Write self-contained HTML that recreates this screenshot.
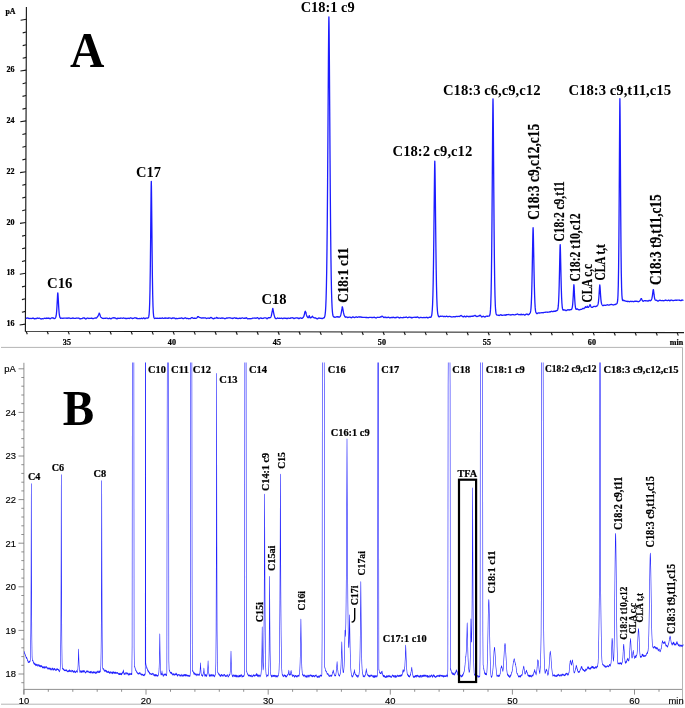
<!DOCTYPE html>
<html><head><meta charset="utf-8"><title>Chromatogram</title>
<style>
html,body{margin:0;padding:0;background:#fff}
svg{display:block}
text.b{font-family:"Liberation Serif",serif;font-weight:bold;fill:#000}
g.pb text.b,text.t{stroke:#000;stroke-width:0.22px}
text.s{stroke:#000;stroke-width:0.15px}
text.s{font-family:"Liberation Sans",sans-serif;fill:#000}
</style></head><body>
<svg width="685" height="708" viewBox="0 0 685 708">
<rect width="685" height="708" fill="#fff"/>
<g stroke="#1a1a1a" stroke-width="1.15" fill="none">
<path d="M26.4 7L25.4 331.3L684 332.6"/>
<path d="M25.4 324.1L19.6 325.0M25.5 311.4L21.9 312.3M25.5 298.7L21.9 299.6M25.6 286.0L22.0 286.9M25.6 273.3L19.8 274.2M25.6 260.6L22.0 261.5M25.7 247.9L22.1 248.8M25.7 235.2L22.1 236.1M25.8 222.5L20.0 223.4M25.8 209.8L22.2 210.7M25.8 197.1L22.2 198.0M25.9 184.4L22.3 185.3M25.9 171.7L20.1 172.6M26.0 159.0L22.4 159.9M26.0 146.3L22.4 147.2M26.0 133.6L22.4 134.5M26.1 120.9L20.3 121.8M26.1 108.2L22.5 109.1M26.1 95.5L22.5 96.4M26.2 82.8L22.6 83.7M26.2 70.1L20.4 71.0M26.3 57.4L22.7 58.3M26.3 44.7L22.7 45.6M26.3 32.0L22.7 32.9M26.4 19.3L20.6 20.2"/>
<path d="M26.1 331.3L27.3 334.3M47.1 331.3L48.3 334.3M68.1 331.4L69.3 334.4M89.1 331.4L90.3 334.4M110.1 331.5L111.3 334.5M131.1 331.5L132.3 334.5M152.1 331.6L153.3 334.6M173.1 331.6L174.3 334.6M194.1 331.6L195.3 334.6M215.1 331.7L216.3 334.7M236.1 331.7L237.3 334.7M257.1 331.8L258.3 334.8M278.1 331.8L279.3 334.8M299.1 331.8L300.3 334.8M320.1 331.9L321.3 334.9M341.1 331.9L342.3 334.9M362.1 332.0L363.3 335.0M383.1 332.0L384.3 335.0M404.1 332.0L405.3 335.0M425.1 332.1L426.3 335.1M446.1 332.1L447.3 335.1M467.1 332.2L468.3 335.2M488.1 332.2L489.3 335.2M509.1 332.3L510.3 335.3M530.1 332.3L531.3 335.3M551.1 332.3L552.3 335.3M572.1 332.4L573.3 335.4M593.1 332.4L594.3 335.4M614.1 332.5L615.3 335.5M635.1 332.5L636.3 335.5M656.1 332.5L657.3 335.5M677.1 332.6L678.3 335.6"/>
</g>
<text class="b t" x="14.6" y="326.2" font-size="8.0" text-anchor="end">16</text>
<text class="b t" x="14.6" y="275.4" font-size="8.0" text-anchor="end">18</text>
<text class="b t" x="14.6" y="224.6" font-size="8.0" text-anchor="end">20</text>
<text class="b t" x="14.6" y="173.8" font-size="8.0" text-anchor="end">22</text>
<text class="b t" x="14.6" y="123.0" font-size="8.0" text-anchor="end">24</text>
<text class="b t" x="14.6" y="72.2" font-size="8.0" text-anchor="end">26</text>
<text class="b t" x="5.4" y="14.0" font-size="7.9" text-anchor="start">pA</text>
<text class="b t" x="66.9" y="344.6" font-size="8.1" text-anchor="middle">35</text>
<text class="b t" x="171.9" y="344.6" font-size="8.1" text-anchor="middle">40</text>
<text class="b t" x="276.9" y="344.6" font-size="8.1" text-anchor="middle">45</text>
<text class="b t" x="381.9" y="344.6" font-size="8.1" text-anchor="middle">50</text>
<text class="b t" x="486.9" y="344.6" font-size="8.1" text-anchor="middle">55</text>
<text class="b t" x="591.9" y="344.6" font-size="8.1" text-anchor="middle">60</text>
<text class="b t" x="683.2" y="344.7" font-size="8.0" text-anchor="end">min</text>
<path d="M25.80 318.04L26.10 318.21L26.40 318.23L26.70 318.23L27 318.05L27.30 318.08L27.60 317.95L27.90 318.01L28.20 318.19L28.50 318.33L28.80 318.52L29.10 318.46L29.40 318.69L29.70 318.32L30 318.41L30.30 318.30L30.60 318.44L30.90 318.53L31.20 318.62L31.50 318.48L31.80 318.43L32.10 318.30L32.40 318.32L32.70 318.07L33 318.27L33.30 318.10L33.60 318.35L33.90 318.45L34.20 318.74L34.50 318.79L34.80 318.73L35.10 318.80L35.40 318.53L35.70 318.70L36 318.60L36.30 318.62L36.60 318.38L36.90 318.12L37.20 318.14L37.50 318.01L37.80 318.37L38.10 318.30L38.40 318.44L38.70 318.17L39 318.19L39.30 318.14L39.60 318.23L39.90 318.42L40.20 318.52L40.50 318.79L40.80 318.83L41.10 319.02L41.40 318.93L41.70 318.79L42 318.69L42.30 318.60L42.60 318.74L42.90 318.73L43.20 318.90L43.50 318.60L43.80 318.59L44.10 318.36L44.40 318.41L44.70 318.13L45 318.28L45.30 318.28L45.60 318.30L45.90 318.51L46.20 318.41L46.50 318.34L46.80 318.02L47.10 318.18L47.40 318.24L47.70 318.23L48 318.41L48.30 318.13L48.60 318.25L48.90 317.93L49.20 318.37L49.50 318.40L49.80 318.69L50.10 318.81L50.40 318.69L50.70 318.54L51 318.24L51.30 318.03L51.60 317.88L51.90 317.78L52.20 318L52.50 317.90L52.80 317.95L53.10 318.07L53.40 318.01L53.70 318.32L54 318.43L54.30 318.69L54.60 318.51L54.90 318.40L55.20 318.16L55.50 317.75L55.80 317.19L56.10 316L56.40 314L56.70 310.60L57 305.92L57.30 300.20L57.55 295.52L57.60 294.61L57.68 293.63L57.80 292.83L57.90 293.57L57.92 293.59L58.05 295.42L58.20 297.79L58.30 299.62L58.50 303.53L58.80 308.71L59.10 312.55L59.40 315.08L59.70 316.59L60 317.56L60.30 317.84L60.60 318.30L60.90 318.35L61.20 318.32L61.50 318.13L61.80 318.07L62.10 318.17L62.40 318.15L62.70 318.37L63 318.38L63.30 318.30L63.60 318.14L63.90 318.09L64.20 318.07L64.50 318.06L64.80 318.07L65.10 318.13L65.40 318.21L65.70 318.11L66 318.20L66.30 318.17L66.60 318.27L66.90 318.13L67.20 318.29L67.50 318.16L67.80 318.11L68.10 318.02L68.40 318.16L68.70 317.99L69 318.08L69.30 317.99L69.60 318.17L69.90 318.09L70.20 318.46L70.50 318.31L70.80 318.41L71.10 318.19L71.40 318.38L71.70 318.32L72 318.39L72.30 318.22L72.60 318.12L72.90 317.86L73.20 318.08L73.50 318.21L73.80 318.37L74.10 318.30L74.40 318.35L74.70 318.31L75 318.43L75.30 318.44L75.60 318.43L75.90 318.15L76.20 318.15L76.50 318.01L76.80 318.13L77.10 318.10L77.40 318.16L77.70 318.05L78 318.27L78.30 318.20L78.60 318.19L78.90 318.18L79.20 318.30L79.50 318.55L79.80 318.62L80.10 318.97L80.40 318.83L80.70 318.73L81 318.65L81.30 318.61L81.60 318.64L81.90 318.53L82.20 318.51L82.50 318.34L82.80 318.08L83.10 317.89L83.40 317.88L83.70 317.84L84 318.13L84.30 317.99L84.60 318.40L84.90 318.25L85.20 318.67L85.50 318.65L85.80 318.99L86.10 318.88L86.40 318.65L86.70 318.51L87 318.13L87.30 318.11L87.60 318L87.90 318.20L88.20 318.17L88.50 318.40L88.80 318.48L89.10 318.50L89.40 318.33L89.70 318.41L90 318.23L90.30 318.44L90.60 318.35L90.90 318.40L91.20 318.19L91.50 318.27L91.80 318.14L92.10 318.36L92.40 318.45L92.70 318.69L93 318.72L93.30 318.64L93.60 318.59L93.90 318.37L94.20 318.26L94.50 318.13L94.80 318.03L95.10 318.04L95.40 317.89L95.70 318.08L96 318.21L96.30 318.09L96.60 317.92L96.90 317.50L97.20 317.17L97.50 316.60L97.80 316.41L98.10 315.96L98.40 315.29L98.70 314.45L98.95 313.64L99 313.41L99.08 313.04L99.20 313.11L99.30 313.24L99.32 313.35L99.45 313.56L99.60 313.90L99.70 313.99L99.90 314.64L100.20 315.62L100.50 316.55L100.80 317.08L101.10 317.43L101.40 317.56L101.70 317.70L102 317.98L102.30 318.19L102.60 318.47L102.90 318.47L103.20 318.52L103.50 318.34L103.80 318.33L104.10 318.28L104.40 318.25L104.70 318.38L105 318.35L105.30 318.33L105.60 318.22L105.90 318.26L106.20 318.12L106.50 318.14L106.80 318.05L107.10 318.25L107.40 318.33L107.70 318.55L108 318.72L108.30 318.71L108.60 318.62L108.90 318.44L109.20 318.23L109.50 318.25L109.80 318.12L110.10 318.50L110.40 318.57L110.70 318.81L111 318.76L111.30 318.70L111.60 318.45L111.90 318.34L112.20 318.01L112.50 317.92L112.80 317.85L113.10 317.87L113.40 317.85L113.70 317.71L114 317.97L114.30 317.77L114.60 317.95L114.90 318.03L115.20 318L115.50 318.19L115.80 318.18L116.10 318.63L116.40 318.62L116.70 318.82L117 318.83L117.30 318.52L117.60 318.55L117.90 318.22L118.20 318.44L118.50 318.15L118.80 318.44L119.10 318.35L119.40 318.35L119.70 318.26L120 318.21L120.30 318.30L120.60 318.12L120.90 318.23L121.20 318.06L121.50 318.06L121.80 318.05L122.10 318.19L122.40 318.29L122.70 318.25L123 318.16L123.30 318.05L123.60 317.93L123.90 317.99L124.20 318.11L124.50 318.23L124.80 318.45L125.10 318.34L125.40 318.49L125.70 318.27L126 318.49L126.30 318.43L126.60 318.52L126.90 318.46L127.20 318.50L127.50 318.36L127.80 318.28L128.10 318.19L128.40 318.27L128.70 318.30L129 318.44L129.30 318.55L129.60 318.35L129.90 318.19L130.20 317.96L130.50 318.03L130.80 317.87L131.10 317.98L131.40 318.06L131.70 318.29L132 318.31L132.30 318.50L132.60 318.40L132.90 318.56L133.20 318.36L133.50 318.46L133.80 318.23L134.10 318.02L134.40 317.88L134.70 317.77L135 317.85L135.30 317.87L135.60 317.92L135.90 318.07L136.20 317.98L136.50 318.36L136.80 318.25L137.10 318.54L137.40 318.32L137.70 318.58L138 318.49L138.30 318.60L138.60 318.56L138.90 318.58L139.20 318.57L139.50 318.49L139.80 318.58L140.10 318.63L140.40 318.63L140.70 318.47L141 318.30L141.30 318.23L141.60 318.14L141.90 318.42L142.20 318.62L142.50 318.69L142.80 318.49L143.10 318.20L143.40 317.93L143.70 317.89L144 318.08L144.30 318.45L144.60 318.48L144.90 318.72L145.20 318.43L145.50 318.43L145.80 318.24L146.10 318.21L146.40 318.03L146.70 318.05L147 318L147.30 318.05L147.60 318.06L147.90 318.21L148.20 317.83L148.50 317.48L148.80 316.42L149.10 314.46L149.40 310.24L149.70 302.79L150 289.79L150.30 269.55L150.60 242.01L150.80 220.82L150.90 210.26L151.05 195.56L151.18 185.62L151.20 184.66L151.30 181.28L151.42 186.08L151.50 191.87L151.55 195.96L151.80 221.12L152.10 251.87L152.40 277.40L152.70 295.10L153 306.17L153.30 312.55L153.60 315.63L153.90 317.38L154.20 318.05L154.50 318.46L154.80 318.54L155.10 318.46L155.40 318.35L155.70 318.05L156 318.16L156.30 318.17L156.60 318.41L156.90 318.30L157.20 318.37L157.50 318.25L157.80 318.19L158.10 318.30L158.40 318.35L158.70 318.34L159 318.39L159.30 318.25L159.60 318.25L159.90 318.08L160.20 318.29L160.50 318.26L160.80 318.40L161.10 318.43L161.40 318.31L161.70 318.13L162 317.93L162.30 317.92L162.60 317.99L162.90 318.22L163.20 318.42L163.50 318.47L163.80 318.37L164.10 318.15L164.40 318.24L164.70 318.03L165 318.20L165.30 317.99L165.60 318.23L165.90 318L166.20 318.22L166.50 318.09L166.80 318.18L167.10 318.20L167.40 318.23L167.70 318.46L168 318.26L168.30 318.29L168.60 317.88L168.90 317.84L169.20 317.78L169.50 317.99L169.80 318.12L170.10 318.14L170.40 318.11L170.70 318.10L171 318.18L171.30 318.45L171.60 318.60L171.90 318.49L172.20 318.34L172.50 318.02L172.80 318.01L173.10 317.95L173.40 318.05L173.70 318.01L174 318.12L174.30 317.97L174.60 318.17L174.90 318.22L175.20 318.64L175.50 318.53L175.80 318.72L176.10 318.51L176.40 318.46L176.70 318.48L177 318.59L177.30 318.59L177.60 318.62L177.90 318.47L178.20 318.48L178.50 318.40L178.80 318.33L179.10 318.33L179.40 318.22L179.70 318.36L180 318.27L180.30 318.38L180.60 318.20L180.90 318.14L181.20 317.92L181.50 317.99L181.80 317.94L182.10 318.13L182.40 318.18L182.70 318.44L183 318.60L183.30 318.52L183.60 318.63L183.90 318.46L184.20 318.32L184.50 318.10L184.80 317.99L185.10 317.82L185.40 317.77L185.70 318.02L186 318.12L186.30 318.43L186.60 318.49L186.90 318.49L187.20 318.42L187.50 318.38L187.80 318.57L188.10 318.52L188.40 318.80L188.70 318.58L189 318.65L189.30 318.56L189.60 318.72L189.90 318.64L190.20 318.77L190.50 318.56L190.80 318.36L191.10 318.02L191.40 317.81L191.70 317.60L192 317.50L192.30 317.66L192.60 317.87L192.90 318.11L193.20 318.23L193.50 318.36L193.80 318.26L194.10 318.24L194.40 318.23L194.70 318.26L195 318.17L195.30 318.28L195.60 318.30L195.90 318.32L196.20 318.22L196.50 318.16L196.80 317.93L197.10 317.60L197.40 317.23L197.50 317L197.70 316.86L197.75 316.71L197.88 316.85L198 316.72L198.12 316.83L198.25 316.65L198.30 316.78L198.50 316.85L198.60 316.94L198.90 317.10L199.20 317.27L199.50 317.46L199.80 317.52L200.10 317.64L200.40 317.67L200.70 317.76L201 317.94L201.30 317.93L201.60 318.13L201.90 317.95L202.20 317.91L202.50 318L202.80 317.96L203.10 318.08L203.40 317.93L203.70 317.95L204 317.92L204.30 317.89L204.60 318.01L204.90 317.80L205.20 317.94L205.50 317.80L205.80 318.12L206.10 318.12L206.40 318.54L206.70 318.32L207 318.42L207.30 318.10L207.60 318.20L207.90 318.10L208.20 318.25L208.50 318.15L208.80 318.22L209.10 318.21L209.40 318.34L209.70 318.30L210 318.19L210.30 317.85L210.60 317.58L210.90 317.41L211.20 317.45L211.50 317.62L211.80 317.90L212.10 318.05L212.40 318.43L212.70 318.40L213 318.64L213.30 318.52L213.60 318.85L213.90 318.56L214.20 318.51L214.50 318.23L214.80 318.30L215.10 318.07L215.40 318.22L215.70 318.14L216 317.93L216.30 317.71L216.50 317.47L216.60 317.59L216.75 317.49L216.88 317.52L216.90 317.69L217 317.61L217.12 317.84L217.20 317.76L217.25 318.06L217.50 318.05L217.80 318.24L218.10 318.05L218.40 318.22L218.70 318.06L219 318.18L219.30 318.04L219.60 318.15L219.90 318.07L220.20 318.28L220.50 318.29L220.80 318.42L221.10 318.16L221.40 318.21L221.70 317.90L222 318.06L222.30 317.99L222.60 318.27L222.90 318.14L223.20 318.19L223.50 318.18L223.80 318.17L224.10 318.38L224.40 318.59L224.70 318.72L225 318.74L225.30 318.67L225.60 318.59L225.90 318.38L226.20 318.16L226.50 318L226.80 318.01L227.10 318.01L227.40 318.21L227.70 318.02L228 318.02L228.30 317.81L228.60 317.85L228.90 317.81L229.20 317.72L229.50 317.87L229.80 317.87L230.10 317.91L230.40 317.96L230.70 318.09L231 318L231.30 318.17L231.60 318.13L231.90 318.40L232.20 318.24L232.50 318.52L232.80 318.47L233.10 318.43L233.40 318.17L233.70 317.91L234 317.92L234.30 317.75L234.60 317.88L234.90 317.97L235.20 317.99L235.50 318.24L235.80 318.05L236.10 318.36L236.40 317.92L236.70 318.22L237 318.07L237.30 318.40L237.60 318.45L237.90 318.67L238.20 318.54L238.50 318.56L238.80 318.37L239.10 318.21L239.40 318.16L239.70 318.17L240 318.41L240.30 318.27L240.60 318.47L240.90 318.20L241.20 318.32L241.50 318.06L241.80 318.17L242.10 317.99L242.40 317.92L242.70 317.90L243 318.02L243.30 318.16L243.60 318.26L243.90 318.36L244.20 318.31L244.50 318.17L244.80 318.26L245.10 318.19L245.40 318.29L245.70 318.08L246 318.06L246.30 317.70L246.60 317.93L246.90 318.02L247.20 318.47L247.50 318.68L247.80 318.86L248.10 318.89L248.40 318.74L248.70 318.66L249 318.55L249.30 318.62L249.60 318.75L249.90 318.73L250.20 318.86L250.50 318.56L250.80 318.66L251.10 318.57L251.40 318.64L251.70 318.68L252 318.45L252.30 318.30L252.60 318.06L252.90 318.04L253.20 318.05L253.50 318.10L253.80 318.13L254.10 318.17L254.40 318.02L254.70 318.16L255 317.95L255.30 318.22L255.60 318.20L255.90 318.30L256.20 318.19L256.50 318.06L256.80 317.91L257.10 317.73L257.40 317.71L257.70 317.85L258 318.01L258.30 318.34L258.60 318.63L258.90 318.94L259.20 318.81L259.50 318.60L259.80 318.26L260.10 318.03L260.40 317.95L260.70 318.05L261 318.13L261.30 318.31L261.60 318.21L261.90 318.31L262.20 318.29L262.50 318.48L262.80 318.39L263.10 318.36L263.40 318.35L263.70 318.05L264 317.95L264.30 317.84L264.60 317.97L264.90 317.85L265.20 317.86L265.50 317.80L265.80 317.85L266.10 317.86L266.40 318.27L266.70 318.45L267 318.83L267.30 318.54L267.60 318.49L267.90 317.94L268.20 317.86L268.50 317.60L268.80 317.70L269.10 317.79L269.40 317.73L269.70 317.77L270 317.55L270.30 317.70L270.60 317.36L270.90 317.09L271.20 316.16L271.50 315.07L271.80 313.46L272.10 311.81L272.30 310.78L272.40 310.43L272.55 309.59L272.68 308.85L272.70 308.67L272.80 308.41L272.92 308.72L273 309.24L273.05 309.55L273.30 310.92L273.60 312.58L273.90 314.08L274.20 315.36L274.50 316.42L274.80 317.43L275.10 317.98L275.40 318.43L275.70 318.55L276 318.63L276.30 318.62L276.60 318.59L276.90 318.50L277.20 318.20L277.50 318.01L277.80 317.96L278.10 318.16L278.40 318.29L278.70 318.44L279 318.39L279.30 318.28L279.60 318.20L279.90 318.19L280.20 318.46L280.50 318.31L280.80 318.39L281.10 318.10L281.40 318.12L281.70 318.14L282 318.34L282.30 318.65L282.60 318.67L282.90 318.57L283.20 318.40L283.50 318.17L283.80 318.15L284.10 318.03L284.40 318.24L284.70 318.31L285 318.26L285.30 318.37L285.60 318.21L285.90 318.28L286.20 318.20L286.50 318.52L286.80 318.61L287.10 318.56L287.40 318.62L287.70 318.27L288 318.25L288.30 318.14L288.60 318.23L288.90 318.12L289.20 318.25L289.50 318.43L289.80 318.42L290.10 318.44L290.40 318.30L290.70 318.04L291 317.78L291.30 317.97L291.60 317.89L291.90 318.05L292.20 317.85L292.50 317.83L292.80 317.67L293.10 317.87L293.40 318.18L293.70 318.38L294 318.65L294.30 318.42L294.60 318.31L294.90 318.16L295.20 318.04L295.50 318.01L295.80 317.96L296.10 318L296.40 317.91L296.70 317.86L297 317.91L297.30 317.95L297.60 317.95L297.90 318.25L298.20 318.10L298.50 318.53L298.80 318.26L299.10 318.63L299.40 318.30L299.70 318.25L300 318.05L300.30 317.86L300.60 317.87L300.90 317.96L301.20 318.23L301.50 318.13L301.80 318.39L302.10 318.27L302.40 318.26L302.70 317.78L303 317.65L303.30 317.27L303.60 316.76L303.90 316.13L304.20 315.06L304.50 313.82L304.80 312.39L304.90 312.20L305.10 311.51L305.15 311.51L305.28 311.25L305.40 311.34L305.52 311.70L305.65 312.10L305.70 312.30L305.90 312.86L306 313.11L306.30 314.38L306.60 315.40L306.90 316.25L307.20 316.64L307.50 317.13L307.80 317.50L308.10 317.73L308.40 317.67L308.70 317.15L308.80 316.78L309 316.18L309.05 316.11L309.18 315.75L309.30 315.70L309.42 315.87L309.55 316.37L309.60 316.37L309.80 317.17L309.90 317.35L310.20 317.88L310.50 317.96L310.80 317.89L311.10 317.53L311.40 317.34L311.70 317.02L312 316.97L312.25 316.40L312.30 316.43L312.38 316.12L312.50 316.14L312.60 316.45L312.62 316.64L312.75 317.02L312.90 317.15L313 317.04L313.20 317.28L313.50 317.45L313.80 317.71L314.10 317.80L314.40 317.89L314.70 318.03L315 317.96L315.30 318.07L315.60 317.96L315.90 318.04L316.20 318.21L316.50 318.46L316.80 318.73L317.10 318.88L317.40 318.76L317.70 318.75L318 318.40L318.30 318.31L318.60 318.03L318.90 318.15L319.20 318.02L319.50 318.20L319.80 318.16L320.10 318.39L320.40 318.21L320.70 318.42L321 318.26L321.30 318.47L321.60 318.48L321.90 318.59L322.20 318.60L322.50 318.52L322.80 318.21L323.10 318.04L323.40 317.96L323.70 318.06L324 317.78L324.30 317.68L324.60 316.87L324.90 316L325.20 313.86L325.50 310.95L325.80 305.74L326.10 298.24L326.40 286.77L326.70 270.71L327 248.35L327.30 218.97L327.60 182.14L327.90 139.46L328.20 93.71L328.40 64.31L328.50 50.91L328.65 33.51L328.78 22.19L328.80 20.84L328.90 16.78L329.02 21.81L329.10 28.23L329.15 33.01L329.40 64.05L329.70 108.47L330 153.44L330.30 194.08L330.60 228.40L330.90 255.58L331.20 275.96L331.50 290.66L331.80 300.77L332.10 307.48L332.40 311.69L332.70 314.24L333 315.78L333.30 316.31L333.60 316.87L333.90 316.81L334.20 317.14L334.50 317.17L334.80 317.30L335.10 317.19L335.40 317.20L335.70 317.23L336 317.11L336.30 316.97L336.60 316.90L336.90 316.62L337.20 316.78L337.50 316.73L337.80 317.01L338.10 316.86L338.40 317.04L338.70 316.92L339 317.06L339.30 317.10L339.60 317.04L339.90 316.68L340.20 316.43L340.50 315.78L340.80 314.91L341.10 313.62L341.40 312.12L341.70 310.37L341.90 308.98L342 308.42L342.15 307.43L342.28 306.78L342.30 306.80L342.40 306.86L342.52 307.32L342.60 307.59L342.65 307.74L342.90 309.14L343.20 310.86L343.50 312.72L343.80 313.92L344.10 315.09L344.40 315.51L344.70 316.41L345 316.62L345.30 317.20L345.60 317.02L345.90 317.16L346.20 316.92L346.50 317.08L346.80 317.13L347.10 317.30L347.40 317.48L347.70 317.48L348 317.54L348.30 317.35L348.60 317.33L348.90 317.22L349.20 317.07L349.50 317.21L349.80 317.17L350.10 317.29L350.40 317.27L350.70 317.46L351 317.68L351.30 317.75L351.60 317.69L351.90 317.42L352.20 317.13L352.50 316.92L352.80 316.83L353.10 317.02L353.40 317.05L353.70 317.34L354 317.40L354.30 317.52L354.60 317.56L354.90 317.43L355.20 317.41L355.50 317.04L355.80 316.97L356.10 316.82L356.40 316.79L356.70 317.11L357 317.30L357.30 317.42L357.60 317.39L357.90 317.20L358.20 317.06L358.50 316.86L358.80 316.88L359.10 317L359.40 316.99L359.70 317.07L360 316.98L360.30 316.98L360.60 316.97L360.90 316.99L361.20 317.22L361.50 317.14L361.80 317.33L362.10 317.23L362.40 317.32L362.70 317.32L363 317.28L363.30 317.37L363.60 317.28L363.90 317.47L364.20 317.38L364.50 317.28L364.80 317.32L365.10 317.31L365.40 317.44L365.70 317.51L366 317.49L366.30 317.55L366.60 317.42L366.90 317.48L367.20 317.51L367.50 317.65L367.80 317.60L368.10 317.75L368.40 317.69L368.70 317.63L369 317.42L369.30 317.34L369.60 317.38L369.90 317.33L370.20 317.40L370.50 317.30L370.80 317.36L371.10 317.38L371.40 317.44L371.70 317.61L372 317.60L372.30 317.55L372.60 317.49L372.90 317.60L373.20 317.40L373.50 317.34L373.80 317.28L374.10 317.25L374.40 317.23L374.70 317.42L375 317.62L375.30 317.69L375.60 317.84L375.90 317.94L376.20 318L376.50 317.76L376.80 317.56L377.10 317.35L377.40 317.25L377.70 317.28L378 317.36L378.30 317.45L378.60 317.34L378.90 317.34L379.20 317.33L379.50 317.39L379.80 317.18L380.10 317.20L380.40 316.94L380.70 317.01L381 316.77L381.30 316.81L381.50 316.46L381.60 316.50L381.75 316.34L381.88 316.32L381.90 316.24L382 316.21L382.12 316.15L382.20 316.25L382.25 316.23L382.50 316.43L382.80 316.52L383.10 316.88L383.40 317.23L383.70 317.52L384 317.66L384.30 317.46L384.60 317.23L384.90 316.98L385.20 317.18L385.50 317.10L385.80 317.55L386.10 317.42L386.40 317.67L386.70 317.33L387 317.60L387.30 317.31L387.60 317.51L387.90 317.35L388.20 317.42L388.50 317.16L388.80 317.35L389.10 317.43L389.40 317.69L389.70 317.88L390 317.83L390.30 317.78L390.60 317.57L390.90 317.55L391.20 317.41L391.50 317.58L391.80 317.51L392.10 317.64L392.40 317.46L392.70 317.64L393 317.26L393.30 317.44L393.60 317.22L393.90 317.51L394.20 317.51L394.50 317.71L394.80 317.74L395.10 317.70L395.40 317.73L395.70 317.50L396 317.61L396.30 317.44L396.60 317.50L396.90 317.25L397.20 317.18L397.50 317.13L397.80 317.04L398.10 317.27L398.40 317.33L398.70 317.72L399 317.73L399.30 318.01L399.60 317.86L399.90 317.68L400.20 317.46L400.50 317.35L400.80 317.54L401.10 317.53L401.40 317.61L401.70 317.58L402 317.57L402.30 317.62L402.60 317.75L402.90 317.68L403.20 317.60L403.50 317.43L403.80 317.57L404.10 317.41L404.40 317.39L404.70 317.31L405 317.38L405.30 317.34L405.60 317.35L405.90 317.16L406.20 317.18L406.50 317.03L406.80 317.31L407.10 317.55L407.40 317.74L407.70 317.70L408 317.71L408.30 317.48L408.60 317.34L408.90 317.21L409.20 317.24L409.50 317.12L409.80 317.17L410.10 317.15L410.40 317.36L410.70 317.29L411 317.71L411.30 317.46L411.60 317.79L411.90 317.51L412.20 317.80L412.50 317.56L412.80 317.56L413.10 317.36L413.40 317.46L413.70 317.40L414 317.45L414.30 317.41L414.60 317.27L414.90 317.15L415.20 317.15L415.50 317.31L415.80 317.43L416.10 317.49L416.40 317.41L416.70 317.15L417 317.02L417.30 316.89L417.60 317.06L417.90 317.11L418.20 317.44L418.50 317.46L418.80 317.74L419.10 317.76L419.40 317.86L419.70 317.76L420 317.62L420.30 317.39L420.60 317.39L420.90 317.32L421.20 317.39L421.50 317.53L421.80 317.61L422.10 317.75L422.40 317.65L422.70 317.67L423 317.65L423.30 317.43L423.60 317.56L423.90 317.55L424.20 317.60L424.50 317.58L424.80 317.48L425.10 317.53L425.40 317.50L425.70 317.54L426 317.54L426.30 317.42L426.60 317.24L426.90 317.28L427.20 317.32L427.50 317.79L427.80 317.69L428.10 317.93L428.40 317.59L428.70 317.60L429 317.31L429.30 317.44L429.60 317.21L429.90 317.31L430.20 317.09L430.50 317.34L430.80 316.95L431.10 317.13L431.40 316.17L431.70 315.29L432 313.05L432.30 309.75L432.60 304.15L432.90 295.26L433.20 282.22L433.50 263.47L433.80 239.82L434.10 212.01L434.30 193.49L434.40 184.34L434.55 172.60L434.68 164.55L434.70 163.79L434.80 161.03L434.92 164.94L435 169.44L435.05 172.75L435.30 193.26L435.60 221.49L435.90 247.80L436.20 269.72L436.50 286.32L436.80 297.98L437.10 305.72L437.40 310.46L437.70 313.34L438 314.84L438.30 315.86L438.60 316.52L438.90 316.80L439.20 316.88L439.50 316.68L439.80 316.38L440.10 316.16L440.40 316.13L440.70 316.31L441 316.36L441.30 316.41L441.60 316.27L441.90 316.12L442.20 316.06L442.50 316.08L442.80 316.39L443.10 316.49L443.40 316.69L443.70 316.59L444 316.46L444.30 316.43L444.60 316.40L444.90 316.57L445.20 316.68L445.50 316.66L445.80 316.57L446.10 316.29L446.40 316.22L446.70 316.18L447 316.29L447.30 316.56L447.60 316.53L447.90 316.74L448.20 316.54L448.50 316.61L448.80 316.47L449.10 316.55L449.40 316.39L449.70 316.35L450 316.38L450.30 316.50L450.60 316.72L450.90 316.73L451.20 316.94L451.50 316.82L451.80 316.99L452.10 316.98L452.40 316.94L452.70 316.97L453 316.80L453.30 316.75L453.60 316.65L453.90 316.73L454.20 316.68L454.50 316.75L454.80 316.86L455.10 316.94L455.40 316.68L455.70 316.54L456 316.46L456.30 316.31L456.60 316.42L456.90 316.42L457.20 316.63L457.50 316.47L457.80 316.44L458.10 316.48L458.40 316.37L458.70 316.39L459 316.44L459.30 316.49L459.60 316.26L459.90 316.17L460.20 315.94L460.50 315.72L460.75 315.67L460.80 315.70L460.88 315.85L461 315.69L461.10 315.89L461.12 315.52L461.25 315.66L461.40 315.59L461.50 315.74L461.70 315.91L462 316.04L462.30 316.29L462.60 316.45L462.90 316.77L463.20 316.94L463.50 316.84L463.80 316.67L464.10 316.26L464.40 316.10L464.70 316.14L465 316.41L465.30 316.83L465.60 316.93L465.90 316.92L466.20 316.65L466.50 316.26L466.80 316.33L467.10 316.14L467.40 316.40L467.70 316.42L468 316.47L468.30 316.63L468.60 316.47L468.90 316.77L469.20 316.34L469.50 316.65L469.80 316.34L470.10 316.54L470.40 316.42L470.70 316.57L471 316.42L471.30 316.32L471.60 316.31L471.90 316.07L472.20 316.27L472.50 316.16L472.80 316.38L473.10 316.15L473.40 316.11L473.70 315.91L474 315.81L474.30 315.75L474.50 315.64L474.60 315.58L474.75 315.50L474.88 315.48L474.90 315.53L475 315.71L475.12 315.74L475.20 315.74L475.25 315.51L475.50 315.76L475.80 315.91L476.10 316.20L476.40 316.33L476.70 316.58L477 316.47L477.30 316.52L477.60 316.40L477.90 316.22L478.20 316.10L478.50 316L478.80 316.07L479.10 315.90L479.40 315.78L479.50 315.72L479.70 315.40L479.75 315.57L479.88 315.21L480 315.47L480.12 315.14L480.25 315.64L480.30 315.29L480.50 315.65L480.60 315.52L480.90 315.98L481.20 316.29L481.50 316.66L481.80 317.01L482.10 316.88L482.40 316.75L482.70 316.28L483 316.32L483.30 316.08L483.60 316.46L483.90 316.53L484.20 316.90L484.50 316.88L484.80 317.07L485.10 316.93L485.40 316.73L485.70 316.62L486 316.31L486.30 316.24L486.60 316.14L486.90 316.20L487.20 316.30L487.50 316.15L487.80 316.28L488.10 316.08L488.40 316.03L488.70 316.06L489 316.12L489.30 316L489.60 315.63L489.90 314.77L490.20 313.10L490.50 309.63L490.80 303.61L491.10 293L491.40 276.22L491.70 251.50L492 218.30L492.30 177.62L492.50 149.30L492.60 135.35L492.75 117.03L492.88 104.39L492.90 103.22L493 98.82L493.12 104.58L493.20 111.63L493.25 116.88L493.50 149.33L493.80 191.84L494.10 230.35L494.40 260.34L494.70 281.98L495 296.04L495.30 304.96L495.60 309.94L495.90 312.80L496.20 314.01L496.50 314.67L496.80 314.98L497.10 315.19L497.40 315.21L497.70 315.15L498 315.23L498.30 315.16L498.60 315.30L498.90 315.28L499.20 315.54L499.50 315.32L499.80 315.27L500.10 314.97L500.40 314.90L500.70 314.74L501 314.77L501.30 315.07L501.60 315.19L501.90 315.36L502.20 315.30L502.50 315.32L502.80 315.25L503.10 315.18L503.40 315.20L503.70 315.10L504 315.18L504.30 315.02L504.60 315.19L504.90 314.96L505.20 315.21L505.50 314.83L505.80 315.05L506.10 314.74L506.40 314.97L506.70 314.74L507 314.86L507.30 314.61L507.60 314.66L507.90 314.57L508.20 314.60L508.50 314.57L508.80 314.44L509.10 314.61L509.40 314.57L509.70 314.93L510 314.84L510.30 315.02L510.60 314.89L510.90 315.05L511.20 314.89L511.50 314.90L511.80 314.67L512.10 314.51L512.40 314.55L512.70 314.54L513 314.67L513.30 314.59L513.60 314.76L513.90 314.73L514.20 314.90L514.50 314.94L514.80 314.93L515.10 314.66L515.40 314.63L515.70 314.39L516 314.51L516.30 314.46L516.60 314.47L516.90 314.24L517.20 314.09L517.50 313.94L517.80 314.13L518.10 314.30L518.40 314.54L518.70 314.65L519 314.74L519.30 314.58L519.60 314.61L519.90 314.47L520.20 314.72L520.50 314.42L520.80 314.67L521.10 314.29L521.40 314.53L521.70 314.45L522 314.74L522.30 314.68L522.60 314.67L522.90 314.51L523.20 314.31L523.50 314.48L523.80 314.55L524.10 314.92L524.40 314.89L524.70 315.10L525 315.05L525.30 314.83L525.60 314.70L525.90 314.33L526.20 314.18L526.50 314.07L526.80 314.02L527.10 314.31L527.40 314.22L527.70 314.60L528 314.50L528.30 314.77L528.60 314.72L528.90 314.53L529.20 314.27L529.50 313.81L529.80 313.52L530.10 313L530.40 312.38L530.70 310.91L531 308.20L531.30 303.38L531.60 295.74L531.90 284.66L532.20 270.26L532.50 253.57L532.60 247.86L532.80 237.36L532.85 234.99L532.98 229.91L533.10 227.70L533.22 229.74L533.35 234.87L533.40 236.90L533.60 247.49L533.70 252.98L534 269.68L534.30 284.11L534.60 295.04L534.90 302.78L535.20 307.66L535.50 310.59L535.80 311.99L536.10 312.81L536.40 313.12L536.70 313.49L537 313.51L537.30 313.62L537.60 313.34L537.90 313.15L538.20 312.81L538.50 312.89L538.80 312.81L539.10 313.11L539.40 312.94L539.70 313L540 312.90L540.30 312.88L540.60 312.84L540.90 312.82L541.20 312.76L541.50 312.69L541.80 312.57L542.10 312.56L542.40 312.64L542.70 312.70L543 312.87L543.30 312.73L543.60 312.64L543.90 312.41L544.20 312.33L544.50 312.39L544.80 312.36L545.10 312.46L545.40 312.25L545.70 312.19L546 312.09L546.30 312.10L546.60 312.09L546.90 312.10L547.20 312.32L547.50 312.15L547.80 312.22L548.10 312.07L548.40 312.12L548.70 312.04L549 312.19L549.30 311.95L549.60 311.93L549.90 311.69L550.20 311.84L550.50 311.59L550.80 311.74L551.10 311.42L551.40 311.43L551.70 311.17L552 311.44L552.30 311.40L552.60 311.65L552.90 311.66L553.20 311.59L553.50 311.49L553.80 311.15L554.10 311.28L554.40 311.16L554.70 311.42L555 311.22L555.30 311.40L555.60 310.92L555.90 311L556.20 310.67L556.50 310.75L556.80 310.51L557.10 310.54L557.40 310.31L557.70 309.68L558 308.52L558.30 305.93L558.60 301.74L558.90 294.65L559.20 284.65L559.50 271.60L559.70 261.90L559.80 257.22L559.95 250.75L560.08 246.49L560.10 245.97L560.20 244.55L560.32 246.78L560.40 249.17L560.45 251.15L560.70 262.20L561 276.27L561.30 288.35L561.60 297.19L561.90 303L562.20 306.55L562.50 308.70L562.80 309.65L563.10 310.10L563.40 310.01L563.70 310.07L564 309.83L564.30 310.02L564.60 310.04L564.90 309.99L565.20 310.18L565.50 310.11L565.80 310.53L566.10 310.41L566.40 310.51L566.70 310.41L567 310.23L567.30 310.13L567.60 309.76L567.90 309.87L568.20 309.73L568.50 309.84L568.80 309.99L569.10 309.97L569.40 309.99L569.70 309.66L570 309.72L570.30 309.63L570.60 309.77L570.90 309.76L571.20 309.62L571.50 309.44L571.80 308.84L572.10 308.24L572.40 306.55L572.70 304.23L573 299.95L573.30 294.93L573.40 292.73L573.60 288.98L573.65 287.78L573.78 285.85L573.90 284.73L574.02 285.62L574.15 287.56L574.20 288.67L574.40 292.69L574.50 294.94L574.80 300.44L575.10 304.52L575.40 307.03L575.70 308.54L576 309.17L576.30 309.34L576.60 309.21L576.90 309.02L577.20 309.01L577.50 308.95L577.80 309.30L578.10 309.37L578.40 309.72L578.70 309.76L579 309.82L579.30 309.81L579.60 309.76L579.90 309.74L580.20 309.45L580.50 309.42L580.80 309.32L581.10 309.37L581.40 309.37L581.70 309.44L582 309.06L582.30 308.82L582.60 308.51L582.90 308.58L583.20 308.39L583.50 308.65L583.80 308.32L584.10 308.53L584.40 307.88L584.70 307.96L584.90 307.42L585 307.69L585.15 307.27L585.28 307.27L585.30 306.96L585.40 306.94L585.52 306.60L585.60 306.93L585.65 306.78L585.90 307.17L586.20 307.40L586.50 307.42L586.80 307.21L587 306.75L587.10 306.56L587.25 306.21L587.38 306.16L587.40 306.51L587.50 306.68L587.62 307.06L587.70 307.21L587.75 307.30L588 307.31L588.30 307.37L588.60 307.13L588.90 306.86L589.20 306.24L589.50 305.72L589.75 304.92L589.80 305.05L589.88 304.76L590 304.79L590.10 304.68L590.12 304.71L590.25 304.91L590.40 305.21L590.50 305.58L590.70 306.19L591 306.79L591.30 307.16L591.60 307.21L591.90 307.42L592.20 307.13L592.50 307.28L592.80 307.02L593.10 306.87L593.40 306.64L593.70 306.48L594 306.40L594.30 306.34L594.60 306.49L594.90 306.56L595.20 306.66L595.50 306.50L595.80 306.49L596.10 306.20L596.40 306.35L596.70 306L597 305.99L597.30 305.67L597.60 305.26L597.90 304.68L598.20 303.47L598.50 301.53L598.80 298.16L599.10 293.94L599.30 290.86L599.40 289.29L599.55 287.34L599.68 285.71L599.70 285.64L599.80 284.87L599.92 285.72L600 286.56L600.05 287.14L600.30 290.98L600.60 295.43L600.90 299.33L601.20 301.84L601.50 303.49L601.80 304.28L602.10 304.79L602.40 305.21L602.70 305.58L603 305.60L603.30 305.59L603.60 305.25L603.90 305.14L604.20 305.13L604.50 305.17L604.80 305.41L605.10 305.35L605.40 305.36L605.70 305.32L606 305.15L606.30 305.19L606.60 304.86L606.90 304.88L607.20 304.65L607.50 304.74L607.80 304.82L608.10 304.87L608.40 305.16L608.70 305.18L609 305.16L609.30 304.90L609.60 304.91L609.90 304.68L610.20 304.65L610.50 304.50L610.80 304.63L611.10 304.36L611.40 304.45L611.70 304.49L612 304.57L612.30 304.60L612.60 304.75L612.90 304.94L613.20 304.96L613.50 304.99L613.80 304.81L614.10 304.68L614.40 304.53L614.70 304.57L615 304.50L615.30 304.54L615.60 304.27L615.90 304.26L616.20 304.15L616.50 303.98L616.80 303.66L617.10 303.25L617.40 302.09L617.70 299.96L618 295.05L618.30 285.39L618.60 267.34L618.90 237.88L619.20 196.05L619.40 162.75L619.50 146.44L619.65 122.90L619.78 106.89L619.80 104.81L619.90 98.77L620.02 106.42L620.10 115.37L620.15 122.33L620.40 162.19L620.70 210.53L621 248.01L621.30 273.19L621.60 287.65L621.90 295.31L622.20 298.62L622.50 300.20L622.80 300.52L623 300.64L623.10 300.56L623.25 300.46L623.38 300.22L623.40 300.23L623.50 300.13L623.62 300.29L623.70 300.38L623.75 300.59L624 300.49L624.30 300.53L624.60 300.73L624.90 300.74L625.20 301.08L625.50 301.05L625.80 301.16L626.10 301.18L626.40 301.13L626.70 301.38L627 301.37L627.30 301.57L627.60 301.46L627.90 301.52L628.20 301.39L628.50 301.43L628.80 301.50L629.10 301.66L629.40 301.62L629.70 301.77L630 301.48L630.30 301.39L630.60 301.23L630.90 301.41L631.20 301.40L631.50 301.41L631.80 301.61L632.10 301.33L632.40 301.37L632.70 301.30L633 301.57L633.30 301.64L633.60 301.56L633.90 301.71L634.20 301.34L634.50 301.26L634.80 301.15L635.10 301.34L635.40 301.24L635.70 301.29L636 301.37L636.30 301.30L636.60 301.19L636.90 301.29L637.20 301.27L637.50 301.41L637.80 301.50L638.10 301.81L638.40 301.74L638.70 301.64L639 301.46L639.30 301.18L639.60 301.05L639.90 300.75L640.20 300.39L640.50 299.70L640.70 299.32L640.80 299.03L640.95 298.74L641.08 298.61L641.10 298.63L641.20 298.68L641.32 298.66L641.40 298.83L641.45 298.63L641.70 299.21L642 299.73L642.30 300.52L642.60 300.74L642.90 301.25L643.20 300.97L643.50 301.20L643.80 300.78L644.10 300.79L644.40 300.58L644.70 300.64L645 300.75L645.30 300.74L645.60 300.82L645.90 300.67L646.20 300.87L646.50 300.71L646.80 300.90L647.10 300.88L647.40 301.04L647.70 300.92L648 301.15L648.30 300.96L648.60 300.89L648.90 300.48L649.20 300.54L649.50 300.46L649.80 300.60L650.10 300.74L650.40 300.82L650.70 300.63L651 300.32L651.30 299.97L651.60 299.34L651.90 298.45L652.20 296.84L652.50 295.04L652.80 292.49L653.05 290.71L653.10 290.35L653.18 289.95L653.30 289.57L653.40 289.66L653.42 289.70L653.55 290.37L653.70 291.53L653.80 292.27L654 294.20L654.30 296.40L654.60 298.35L654.90 299.31L655.20 300.10L655.50 300.13L655.80 300.23L656.10 300.04L656.40 300.26L656.70 300.35L657 300.63L657.30 300.79L657.60 301.05L657.90 301.12L658.20 301.06L658.50 300.96L658.80 300.67L659.10 300.45L659.40 300.34L659.70 300.26L660 300.25L660.30 300.30L660.60 300.42L660.90 300.57L661.20 300.62L661.50 300.70L661.80 300.68L662.10 300.52L662.40 300.67L662.70 300.50L663 300.61L663.30 300.60L663.60 300.82L663.90 300.80L664.20 300.60L664.50 300.53L664.80 300.28L665.10 300.24L665.40 300.16L665.70 300.32L666 300.19L666.30 300.41L666.60 300.38L666.90 300.57L667.20 300.59L667.50 300.60L667.80 300.50L668.10 300.32L668.40 300.15L668.70 300.06L669 300.16L669.30 300.53L669.60 300.77L669.90 300.81L670.20 300.67L670.50 300.31L670.80 300.14L671.10 300.12L671.40 300.12L671.70 300.26L672 300.19L672.30 300.39L672.60 300.44L672.90 300.62L673.20 300.69L673.50 300.53L673.80 300.51L674.10 300.36L674.40 300.29L674.70 300.30L675 300.23L675.30 300.25L675.60 300.12L675.90 300.30L676.20 300.25L676.50 300.28L676.80 300.20L677.10 300.25L677.40 300.13L677.70 300.18L678 300.20L678.30 300.16L678.60 300.14L678.90 300.18L679.20 300.16L679.50 300.27L679.80 300.18L680.10 300.45L680.40 300.50L680.70 300.67L681 300.69L681.30 300.41L681.60 300.15L681.90 299.95L682.20 300.05L682.50 300.17L682.80 300.17L683.10 300.28L683.40 300.10" fill="none" stroke="#1c1cff" stroke-width="1.3" stroke-linejoin="round"/>
<text class="b" x="69.9" y="67.4" font-size="51.5" textLength="34.4" lengthAdjust="spacingAndGlyphs" text-anchor="start">A</text>
<text class="b" x="62.8" y="425.0" font-size="50.4" textLength="31.4" lengthAdjust="spacingAndGlyphs" text-anchor="start">B</text>
<text class="b" x="47.0" y="287.6" font-size="14.4" textLength="25.5" lengthAdjust="spacingAndGlyphs" text-anchor="start">C16</text>
<text class="b" x="136.0" y="177.3" font-size="14.4" textLength="25.0" lengthAdjust="spacingAndGlyphs" text-anchor="start">C17</text>
<text class="b" x="261.5" y="304.2" font-size="14.4" textLength="25.0" lengthAdjust="spacingAndGlyphs" text-anchor="start">C18</text>
<text class="b" x="300.7" y="11.9" font-size="14.4" textLength="54.0" lengthAdjust="spacingAndGlyphs" text-anchor="start">C18:1 c9</text>
<text class="b" x="392.6" y="156.0" font-size="14.4" textLength="79.6" lengthAdjust="spacingAndGlyphs" text-anchor="start">C18:2 c9,c12</text>
<text class="b" x="443.0" y="95.0" font-size="14.4" textLength="97.5" lengthAdjust="spacingAndGlyphs" text-anchor="start">C18:3 c6,c9,c12</text>
<text class="b" x="568.5" y="95.0" font-size="14.4" textLength="102.5" lengthAdjust="spacingAndGlyphs" text-anchor="start">C18:3 c9,t11,c15</text>
<g class="pb">
<text class="b" transform="translate(347.6 302.8) rotate(-90)" font-size="14.6" textLength="55.0" lengthAdjust="spacingAndGlyphs">C18:1 c11</text>
<text class="b" transform="translate(539.2 219.8) rotate(-90)" font-size="15.8" textLength="96.0" lengthAdjust="spacingAndGlyphs">C18:3 c9,c12,c15</text>
<text class="b" transform="translate(564.4 241.5) rotate(-90)" font-size="15.3" textLength="60.3" lengthAdjust="spacingAndGlyphs">C18:2 c9,t11</text>
<text class="b" transform="translate(579.7 281.4) rotate(-90)" font-size="14.8" textLength="68.0" lengthAdjust="spacingAndGlyphs">C18:2 t10,c12</text>
<text class="b" transform="translate(591.6 302.4) rotate(-90)" font-size="14.2" textLength="38.4" lengthAdjust="spacingAndGlyphs">CLA c,c</text>
<text class="b" transform="translate(604.9 280.4) rotate(-90)" font-size="14.2" textLength="36.2" lengthAdjust="spacingAndGlyphs">CLA t,t</text>
<text class="b" transform="translate(660.5 285.0) rotate(-90)" font-size="16.2" textLength="90.5" lengthAdjust="spacingAndGlyphs">C18:3 t9,t11,c15</text>
</g>
<path d="M1 347.4H682.5V704.2H1" fill="none" stroke="#b4b4b4" stroke-width="1"/>
<g stroke="#747474" stroke-width="0.8" fill="none">
<path d="M23.9 362.8V694.5M23.9 689.4H682"/>
<path d="M23.9 682.7H21.3M23.9 674.0H18.5M23.9 665.3H21.3M23.9 656.6H21.3M23.9 647.8H21.3M23.9 639.1H21.3M23.9 630.4H18.5M23.9 621.7H21.3M23.9 613.0H21.3M23.9 604.2H21.3M23.9 595.5H21.3M23.9 586.8H18.5M23.9 578.1H21.3M23.9 569.4H21.3M23.9 560.6H21.3M23.9 551.9H21.3M23.9 543.2H18.5M23.9 534.5H21.3M23.9 525.8H21.3M23.9 517.0H21.3M23.9 508.3H21.3M23.9 499.6H18.5M23.9 490.9H21.3M23.9 482.2H21.3M23.9 473.4H21.3M23.9 464.7H21.3M23.9 456.0H18.5M23.9 447.3H21.3M23.9 438.6H21.3M23.9 429.8H21.3M23.9 421.1H21.3M23.9 412.4H18.5M23.9 403.7H21.3M23.9 395.0H21.3M23.9 386.2H21.3M23.9 377.5H21.3M23.9 368.8H18.5"/>
<path d="M23.9 689.4V694.6M48.3 689.4V691.8M72.8 689.4V691.8M97.2 689.4V691.8M121.6 689.4V691.8M146.0 689.4V694.6M170.5 689.4V691.8M194.9 689.4V691.8M219.3 689.4V691.8M243.7 689.4V691.8M268.2 689.4V694.6M292.6 689.4V691.8M317.0 689.4V691.8M341.4 689.4V691.8M365.9 689.4V691.8M390.3 689.4V694.6M414.7 689.4V691.8M439.1 689.4V691.8M463.6 689.4V691.8M488.0 689.4V691.8M512.4 689.4V694.6M536.8 689.4V691.8M561.3 689.4V691.8M585.7 689.4V691.8M610.1 689.4V691.8M634.5 689.4V694.6M659.0 689.4V691.8"/>
</g>
<text class="s" x="16.0" y="677.4" font-size="9.4" text-anchor="end">18</text>
<text class="s" x="16.0" y="633.8" font-size="9.4" text-anchor="end">19</text>
<text class="s" x="16.0" y="590.2" font-size="9.4" text-anchor="end">20</text>
<text class="s" x="16.0" y="546.6" font-size="9.4" text-anchor="end">21</text>
<text class="s" x="16.0" y="503.0" font-size="9.4" text-anchor="end">22</text>
<text class="s" x="16.0" y="459.4" font-size="9.4" text-anchor="end">23</text>
<text class="s" x="16.0" y="415.8" font-size="9.4" text-anchor="end">24</text>
<text class="s" x="4.2" y="372.3" font-size="9.4" text-anchor="start">pA</text>
<text class="s" x="23.9" y="703.6" font-size="9.4" text-anchor="middle">10</text>
<text class="s" x="146.0" y="703.6" font-size="9.4" text-anchor="middle">20</text>
<text class="s" x="268.2" y="703.6" font-size="9.4" text-anchor="middle">30</text>
<text class="s" x="390.3" y="703.6" font-size="9.4" text-anchor="middle">40</text>
<text class="s" x="512.4" y="703.6" font-size="9.4" text-anchor="middle">50</text>
<text class="s" x="634.5" y="703.6" font-size="9.4" text-anchor="middle">60</text>
<text class="s" x="676.1" y="703.6" font-size="9.4" text-anchor="middle">min</text>
<clipPath id="cb"><rect x="23" y="362.4" width="662" height="330"/></clipPath>
<g clip-path="url(#cb)"><path transform="scale(0.45 1)" d="M53.56 651.49L54.11 652.32L54.67 653.58L55.22 653.69L55.78 654.37L56.33 655.09L56.89 655.30L57.44 656.64L58 657.29L58.56 658.08L59.11 657.38L59.67 658.26L60.22 658.40L60.78 659.96L61.33 660.53L61.89 660.37L62.44 662.13L63 662.36L63.56 662.21L64.11 662.07L64.67 661.50L65.22 661.34L65.78 662.19L66.33 661.60L66.89 661.28L67.44 658.77L68 649.78L68.44 631.97L68.56 624.51L69 577.99L69.11 560.63L69.29 529.97L69.56 483.90L69.67 500.92L69.82 529.71L70.11 577.55L70.22 593.51L70.67 633.87L70.78 639.90L71.33 656.93L71.89 660.44L72.44 660.43L73 660.91L73.56 660.97L74.11 662.57L74.67 662.37L75.22 663.66L75.78 663.29L76.33 664.27L76.89 664.14L77.44 663.30L78 663.65L78.56 664.92L79.11 664.56L79.67 665.42L80.22 664.58L80.78 664.34L81.33 665.05L81.89 665.28L82.44 664.73L83 664.68L83.56 665.15L84.11 666.14L84.67 665.99L85.22 665.04L85.78 665L86.33 664.88L86.89 664.92L87.44 666.22L88 665.50L88.56 666.20L89.11 666.08L89.67 665.75L90.22 666.67L90.78 665.72L91.33 666.64L91.89 665.73L92.44 666.30L93 666.17L93.56 666.57L94.11 667.64L94.67 667.69L95.22 666.98L95.78 667.71L96.33 666.78L96.89 667.23L97.44 667.70L98 667.72L98.56 666.90L99.11 668.07L99.67 667.01L100.22 667.22L100.78 667.80L101.33 667.14L101.89 667.09L102.44 666.74L103 666.78L103.56 667.69L104.11 667.34L104.67 668.06L105.22 667.90L105.78 668.16L106.33 668.96L106.89 668.48L107.44 668.57L108 668.77L108.56 667.95L109.11 668.04L109.67 669L110.22 668.92L110.78 668.33L111.33 668.30L111.89 668.95L112.44 669.56L113 668.74L113.56 669.87L114.11 669.64L114.67 669.24L115.22 668.68L115.78 668.29L116.33 668.11L116.89 669.65L117.44 668.67L118 669.70L118.56 668.95L119.11 669.87L119.67 669.38L120.22 669.15L120.78 668.75L121.33 669.48L121.89 668.65L122.44 669.19L123 669.69L123.56 670.26L124.11 670.20L124.67 669.62L125.22 670.33L125.78 669.18L126.33 669.01L126.89 669.13L127.44 669.44L128 669.04L128.56 669.37L129.11 669.59L129.67 670.06L130.22 669.70L130.78 670.32L131.33 671.19L131.89 671.57L132.44 671.16L133 670.79L133.56 669.53L134.11 665.73L134.67 655.94L135.11 635.51L135.22 628.93L135.67 576.97L135.78 559.19L135.96 523.91L136.22 475L136.33 492.88L136.49 525.12L136.78 576.43L136.89 593.59L137.33 635.97L137.44 643.66L138 662.81L138.56 668.46L139.11 668.63L139.67 668.94L140.22 669.15L140.78 669.56L141.33 669.01L141.89 669.75L142.44 670.08L143 670.36L143.56 669.90L144.11 670.48L144.67 670.63L145.22 670.30L145.78 670.42L146.33 670.06L146.89 670.28L147.44 670.41L148 669.91L148.56 670.93L149.11 671.57L149.67 671.57L150.22 671.44L150.78 670.83L151.33 671.24L151.89 671.10L152.44 670.82L153 671.46L153.56 670.17L154.11 671.27L154.67 670.09L155.22 671.03L155.78 670.86L156.33 670.69L156.89 671.42L157.44 671.30L158 671.51L158.56 671.75L159.11 670.71L159.67 670.38L160.22 670.58L160.78 671.14L161.33 670.77L161.89 670.87L162.44 671.91L163 671.81L163.56 671.55L164.11 672.16L164.67 671.17L165.22 671.69L165.78 670.97L166.33 671.55L166.89 672.21L167.44 672.45L168 672.47L168.56 671.57L169.11 671.60L169.67 671.07L170.22 670.96L170.78 671.55L171.33 672.08L171.89 672.04L172.44 670.94L173 669.27L173.56 664.50L174.11 657.75L174.40 653.48L174.67 649.52L174.93 653.35L175.22 658.12L175.78 664.90L176.33 668.58L176.89 670.34L177.44 671.91L178 672.34L178.56 671.60L179.11 671.10L179.67 670.72L180.22 672.09L180.78 671.02L181.33 672.13L181.89 671.89L182.44 671.50L183 672.02L183.56 670.82L184.11 670.89L184.67 671.39L185.22 670.83L185.78 672.04L186.33 671L186.89 671.08L187.44 670.80L188 671.82L188.56 671.73L189.11 672.29L189.67 672.44L190.22 672.76L190.78 672.84L191.33 672.36L191.89 671.41L192.44 671.49L193 670.97L193.56 670.90L194.11 671.49L194.67 671.89L195.22 671.21L195.78 671.43L196.33 671.48L196.89 672.16L197.44 672.08L198 672.24L198.56 672.49L199.11 672.08L199.67 672.49L200.22 672.73L200.78 671.62L201.33 672.66L201.89 672.18L202.44 671.49L203 671.97L203.56 672.10L204.11 672.69L204.67 672.05L205.22 672.40L205.78 672.88L206.33 672.79L206.89 673.04L207.44 672.08L208 672.34L208.56 671.63L209.11 672.47L209.67 672.64L210.22 672.38L210.78 672.56L211.33 671.86L211.89 673.02L212.44 673.08L213 673.28L213.56 672.41L214.11 672.77L214.67 672.03L215.22 672.84L215.78 672.51L216.33 671.80L216.89 671.27L217.44 671.78L218 672L218.56 672.30L219.11 672.02L219.67 671.16L220.22 672.34L220.78 671.11L221.33 672.33L221.89 671.36L222.44 671.56L223 671.68L223.56 669.52L224.11 665.01L224.67 650.67L224.89 639.11L225.22 610.32L225.44 580.72L225.73 530.13L225.78 520.36L226 480.88L226.27 528.27L226.33 541.30L226.56 579.85L226.89 620.62L227.11 639.13L227.44 655.60L228 667.50L228.56 668.79L229.11 668.62L229.67 668.68L230.22 669.10L230.78 669.95L231.33 670.48L231.89 669.89L232.44 670.95L233 671.22L233.56 670.73L234.11 670.87L234.67 670.31L235.22 670.99L235.78 670.88L236.33 671.44L236.89 670.69L237.44 672.18L238 671.68L238.56 671.80L239.11 672.32L239.67 672.11L240.22 671.96L240.78 672.25L241.33 671.33L241.89 672.27L242.44 672.23L243 673.18L243.56 673.17L244.11 672.14L244.67 672.30L245.22 671.80L245.78 672.53L246.33 673.15L246.89 673.39L247.44 672.70L248 672.43L248.56 672.29L249.11 672.84L249.67 673.51L250.22 672.28L250.78 673.14L251.33 671.78L251.89 672.27L252.44 672.19L253 673.03L253.56 672.66L254.11 672.69L254.67 673.13L255.22 672.32L255.78 673.34L256.33 672.32L256.89 672.96L257.44 672.52L258 672.58L258.56 673.05L259.11 672.99L259.67 673.05L260.22 672.99L260.78 673.11L261.33 672.67L261.89 672.84L262.44 673.50L263 673.78L263.56 673.79L264.11 674.37L264.67 673.89L265.22 674.35L265.78 673.42L266.33 674.31L266.89 674.24L267.44 674.42L268 673.62L268.56 673.41L269.11 674.37L269.67 673.52L270.22 674.62L270.78 674.18L271.33 673.17L271.89 672.90L272.44 673.03L272.89 672.14L273 671.82L273.44 672.23L273.56 671.36L273.73 671.67L274 670.16L274.11 670.60L274.27 671.11L274.56 670.88L274.67 671.55L275.11 673.04L275.22 673.56L275.78 674.24L276.33 673.26L276.89 673.84L277.44 674.19L278 673.87L278.56 674.01L279.11 673.05L279.67 672.72L280.22 672.74L280.78 672.76L281.33 673.72L281.89 673.70L282.44 673.84L283 673.09L283.56 673.28L284.11 673.47L284.67 674.72L285.22 674.92L285.78 674.79L286.33 673.59L286.89 673.37L287.44 674.65L288 674.01L288.56 674.63L289.11 673.82L289.67 674.03L290.22 674.06L290.78 673.83L291.33 674.18L291.89 673.43L292.44 674.38L293 674.37L293.56 646.29L294.11 340L294.67 340L295.22 340L295.51 340L295.78 340L296.04 340L296.33 340L296.89 340L297.44 340L298 647.52L298.56 666.07L299.11 666.64L299.67 667.11L300.22 668.23L300.78 668.86L301.33 670.15L301.89 670.56L302.44 670.33L303 671.69L303.56 671.84L304.11 672.31L304.67 672.68L305.22 672.41L305.78 673.38L306.33 673.57L306.89 673.63L307.44 673.75L308 673.86L308.56 673.25L309.11 673.71L309.67 672.75L310.22 673.12L310.78 673.28L311.33 672.89L311.89 673.60L312.44 674.01L313 674.39L313.56 673.98L314.11 675L314.67 674.64L315.22 674.32L315.78 674.70L316.33 674.50L316.89 674.73L317.44 674.54L318 675.53L318.56 675.11L319.11 675.44L319.67 675.20L320.22 675.55L320.78 674.15L321.33 674.88L321.89 674.87L322.22 674.17L322.44 674.25L322.78 673.52L323 340L323.07 340L323.33 340L323.56 340L323.60 340L323.89 662.72L324.11 663.38L324.44 664.96L324.67 664.93L325.22 666.91L325.78 667.15L326.33 668.38L326.89 668.05L327.44 669.37L328 670.32L328.56 669.87L329.11 671.68L329.67 670.77L330.22 671.81L330.78 671.60L331.33 672.38L331.89 673L332.44 672.52L333 674.08L333.56 673.49L334.11 673.93L334.67 673.94L335.22 673.81L335.78 673.82L336.33 674.37L336.89 674.44L337.44 674.11L338 674.60L338.56 673.92L339.11 673.47L339.67 673.66L340.22 673.57L340.78 673.91L341.33 675.08L341.89 674.82L342.44 675.57L343 675.45L343.56 674.63L344.11 675.76L344.67 675.77L345.22 674.61L345.78 675.69L346.33 675L346.89 675.15L347.44 675.76L348 674.86L348.56 675.38L349.11 675.83L349.67 675.77L350.22 675.49L350.78 676.11L351.33 675.57L351.89 675.08L352.44 673.53L353 672.52L353.56 668.46L354 662.58L354.11 660.21L354.56 650.40L354.67 646.67L354.84 641.63L355.11 634.14L355.22 636.76L355.38 641.42L355.67 650.90L355.78 653.73L356.22 663.97L356.33 665.45L356.89 671.98L357.44 674.27L358 674.75L358.56 674.07L358.89 673.56L359.11 674.38L359.44 673.59L359.67 672.82L359.73 672.16L360 671.26L360.22 672.44L360.27 672.49L360.56 673.51L360.78 673.90L361.11 674.54L361.33 674.10L361.89 674.69L362.44 676L363 675.92L363.56 675.83L364.11 674.32L364.67 674.18L365.22 674.41L365.78 674.67L366.33 675.14L366.89 674.29L367.44 674.83L368 674.15L368.56 674.33L369.11 675.25L369.67 675.17L370.22 675.43L370.78 673.17L371.33 445.71L371.89 340L372 340L372.44 340L372.56 340L372.84 340L373 340L373.11 340L373.38 340L373.56 340L373.67 340L374.11 340L374.22 340L374.67 340L375.22 660.94L375.78 669.49L376.33 670.70L376.89 670.54L377.44 671.58L378 672.20L378.56 672.94L379.11 672.44L379.67 672.75L380.22 672.34L380.78 673.65L381.33 672.76L381.89 673.11L382.44 673.94L383 674.05L383.56 674.73L384.11 674.10L384.67 674.81L385.22 673.85L385.78 674.05L386.33 674.62L386.89 674.04L387.44 674.60L388 675.13L388.56 675.11L389.11 674.50L389.67 674.20L390.22 674.22L390.67 674.43L390.78 674L391.22 673.24L391.33 674.06L391.51 673.83L391.78 674.34L391.89 674.38L392.04 674.63L392.33 674.08L392.44 674.55L392.89 674.07L393 674.36L393.56 674.84L394.11 675.81L394.67 675.86L395.22 674.93L395.78 674.92L396.33 674.76L396.89 674.82L397.44 674.82L398 674.88L398.56 674.76L399.11 675.37L399.67 675.88L400.22 675.64L400.78 675.94L401.33 675.52L401.89 675.07L402.44 675.75L403 675.74L403.56 674.97L404.11 674.50L404.67 675.14L405.22 675.43L405.78 675.69L406.33 676.40L406.89 675.75L407.44 675.98L408 674.81L408.56 675.33L409.11 675.43L409.67 674.62L410.22 674.75L410.78 675.48L411.33 675.93L411.89 674.73L412.44 675.56L413 674.74L413.56 675.70L414.11 675.41L414.67 675.03L415.22 674.91L415.78 675.78L416.33 675.47L416.89 675.88L417.44 675.40L418 675.37L418.56 676.22L419.11 675.83L419.67 675.70L420.22 675.67L420.78 676.04L421.33 675.99L421.89 676.41L422.44 675.63L423 672.32L423.56 340L424 340L424.11 340L424.56 340L424.67 340L424.84 340L425.11 340L425.22 340L425.38 340L425.67 340L425.78 340L426.22 340L426.33 340L426.89 582.81L427.44 670.94L428 670.79L428.56 671.01L429.11 671.37L429.67 672.39L430.22 672.55L430.78 673.95L431.33 672.77L431.89 673.53L432.44 673.38L433 674.41L433.56 674.68L434.11 674.04L434.67 673.96L435.22 674.70L435.78 674.93L436.33 675.51L436.89 674.16L437.44 674.19L438 674.11L438.56 674.45L439.11 674.69L439.67 675.45L440.22 675.28L440.78 674.76L441.33 674.51L441.89 674.69L442.44 674.46L443 675.21L443.56 674.11L444.11 673.22L444.44 672.04L444.67 670.46L445 667.78L445.22 666.55L445.29 665.99L445.56 663.15L445.78 665.13L445.82 665.92L446.11 667.73L446.33 669.22L446.67 670.94L446.89 673.26L447.44 674.74L448 675.03L448.56 675.33L449.11 675.50L449.67 675.26L450.22 676.17L450.78 675.30L451.33 674.30L451.89 672.79L452 673.26L452.44 671.79L452.56 672.17L452.84 670.57L453 669.58L453.11 668.33L453.38 669.33L453.56 670.53L453.67 671.07L454.11 673.81L454.22 673.83L454.67 674.94L455.22 675.97L455.78 675.03L456.33 675.60L456.89 674.72L457.44 675.87L458 674.82L458.56 676.26L459.11 675.97L459.67 675.81L460.22 674.14L460.78 672.98L461.33 671.11L461.89 665.95L462.18 663.72L462.44 661.07L462.71 664.66L463 667.10L463.56 671.99L464.11 673.39L464.67 675.42L465.22 675.11L465.78 676.27L466.33 674.92L466.89 676.10L467.44 675.05L468 675.58L468.56 675.56L469.11 675.05L469.67 675.98L470.22 675.04L470.78 675.10L471.33 674.61L471.89 675.11L472.44 675.37L473 675.96L473.56 675.36L474.11 675.83L474.67 674.87L475.22 675.52L475.78 675.68L476.33 676.63L476.89 676.29L477.44 675.97L478 674.79L478.56 674.56L479.11 672.59L479.67 662.67L480.22 631.10L480.78 540.40L481.07 455.78L481.33 373.79L481.60 456.90L481.89 540.26L482.44 631.30L483 662.65L483.56 671.88L484.11 672.68L484.67 672.89L485.22 673.48L485.78 673.82L486.33 674.48L486.89 674.24L487.44 674.32L488 675.37L488.56 675.01L489.11 676.22L489.67 675.59L490.22 676.08L490.78 675.24L491.33 675.87L491.89 674.58L492.44 674.81L493 674.73L493.56 675.65L494.11 675.81L494.67 675.30L495.22 675.62L495.78 676.06L496.33 675.72L496.89 674.88L497.44 674.84L498 674.67L498.56 674.62L499.11 675.30L499.67 674.90L500.22 676.32L500.78 675.67L501.33 676.05L501.89 676.22L502.44 676.39L503 676.41L503.56 675.67L504.11 675.32L504.67 675.29L505.22 674.82L505.78 675.63L506.33 676.22L506.89 676.87L507.44 676.66L508 676.22L508.56 675.90L509.11 674.82L509.67 675.21L510.22 674.82L510.78 674.87L511.33 672.86L511.89 670.69L512.22 668.12L512.44 666.17L512.78 661.17L513 656.94L513.07 655.04L513.33 651.39L513.56 655.13L513.60 655.56L513.89 660.31L514.11 663.93L514.44 667.61L514.67 670.54L515.22 674.19L515.78 675.22L516.33 675.99L516.89 676.42L517.44 675.61L518 676.59L518.56 675.85L519.11 675.24L519.67 674.94L520.22 675.21L520.78 675.75L521.33 676.24L521.89 675.73L522.44 676.60L523 675.54L523.56 675.93L524.11 675.14L524.67 676.61L525.22 675.38L525.78 676.69L526.33 676.01L526.89 676.08L527.44 676.09L528 675.81L528.56 676.87L529.11 677.01L529.67 676.70L530.22 676.35L530.78 675.38L531.33 676.46L531.89 675.53L532.44 676.61L533 675.63L533.56 676.09L534.11 676.36L534.67 675.33L535.22 675.68L535.78 674.74L536.33 674.97L536.89 675.33L537.44 676.76L538 676.79L538.56 676.54L539.11 675.93L539.67 676.28L540.22 676.36L540.78 676L541.33 676.09L541.89 676.21L542.44 675.06L543 674.82L543.56 582.40L544.11 340L544.22 340L544.67 340L544.78 340L545.07 340L545.22 340L545.33 340L545.60 340L545.78 340L545.89 340L546.33 340L546.44 340L546.89 340L547.44 670.62L548 671.40L548.56 671.90L549.11 672.86L549.67 673.57L550.22 674.13L550.78 674.62L551.33 674.59L551.89 675.66L552.44 675.53L553 675.73L553.56 675.08L554.11 675.29L554.67 675.49L555.22 676.15L555.78 675.67L556.33 675.87L556.89 675.59L557.44 676.19L558 675.44L558.56 675.25L559.11 676.23L559.67 676.62L560.22 676.65L560.78 676.32L561.33 676.47L561.89 675.57L562.44 675.85L563 674.97L563.56 675.14L564.11 675.56L564.67 675.65L565.22 675.70L565.78 675.21L566.33 676.07L566.89 675.77L567.44 675.40L568 675.23L568.56 674.99L569.11 674.62L569.33 674.40L569.67 675.38L569.89 675.39L570.18 674.63L570.22 674.83L570.44 673.61L570.71 674.57L570.78 673.68L571 674.98L571.33 674.90L571.56 675.86L571.89 674.73L572.44 676.10L573 675.31L573.56 676L574.11 676.48L574.67 675.14L575.22 675.45L575.78 675.22L576.33 675.58L576.89 675.40L577.44 676.67L578 676.54L578.56 676.03L579.11 675.46L579.67 675L580.22 673.12L580.78 670.20L581.33 665.33L581.56 660.86L581.89 653.61L582.11 647.36L582.40 637.17L582.44 634.70L582.67 627.23L582.93 635.96L583 639.24L583.22 647.13L583.56 655.59L583.78 661.18L584.11 665.28L584.67 669.61L585.22 668.34L585.78 662.89L586.33 647.60L586.89 615.36L587.44 562L587.73 524.24L588 494.44L588.27 524.04L588.56 560.94L589.11 615.96L589.67 646.86L590.22 663.91L590.78 671.16L591.33 674.40L591.89 674.95L592.44 676.21L593 676.57L593.56 675.94L594.11 675.28L594.67 675.40L595.22 675.35L595.78 675.70L596.33 674.08L596.89 671.76L597.44 665.56L598 651.28L598.56 620.82L598.84 597.03L599.11 576.66L599.38 597.57L599.67 620.50L600.22 650.88L600.78 665.90L601.33 673.04L601.89 675.21L602.44 675.41L603 676.27L603.56 675.45L604.11 676.91L604.67 676.07L605.22 676.19L605.78 676.05L606.33 675.27L606.89 676L607.44 675.63L608 675.59L608.56 676.31L609.11 675.41L609.67 675.70L610.22 676.22L610.78 675.62L611.33 675.64L611.89 676.09L612.44 675.82L613 676.80L613.56 676.90L614.11 675.67L614.67 676.13L615.22 676.54L615.78 676.16L616.33 676.87L616.89 676.13L617.44 675.68L618 675.88L618.56 675.69L619.11 674.60L619.67 673.06L620.22 668.92L620.78 659.82L621.33 642.33L621.89 610.63L622 601.75L622.44 556.96L622.56 544.22L622.84 505.36L623 486.47L623.11 474.46L623.38 505.88L623.56 528.74L623.67 543.36L624.11 592.01L624.22 601.73L624.67 631.97L625.22 653.45L625.78 665.49L626.33 670.74L626.89 673.91L627.44 675.05L628 674.78L628.56 675.76L629.11 676.19L629.67 676.12L630.22 676.48L630.78 675.24L631.33 675.22L631.89 674.89L632.44 675.73L633 675.70L633.56 676.01L634.11 675.60L634.67 676.58L635.22 675.55L635.78 676.90L636.33 676.39L636.89 676.41L637.44 676.49L638 675.52L638.56 675.12L639.11 675.02L639.67 674.42L640.22 674.36L640.67 674.04L640.78 673.85L641.22 672.23L641.33 672.46L641.51 671.04L641.78 671.44L641.89 670.55L642.04 671.34L642.33 672.06L642.44 673.38L642.89 674.56L643 674.79L643.56 674.32L644.11 674.93L644.67 674.84L645.22 674.12L645.78 674.29L646.33 671.47L646.62 671.43L646.89 670.74L647.16 672.03L647.44 671.87L648 673.69L648.56 674.91L649.11 674.75L649.67 675.29L650.22 676.32L650.78 675.38L651.33 675.87L651.89 675.46L652.44 675.62L653 675.32L653.56 675.42L654.11 676.98L654.67 676.69L655.22 676.72L655.78 675.81L656.33 675.65L656.89 676.01L657.44 675.79L658 676.16L658.56 676.79L659.11 676.21L659.67 676.22L660.22 676.87L660.78 676.32L661.33 675.57L661.89 675.77L662.44 676.01L663 675.29L663.56 675.75L664.11 675.98L664.67 675.99L665.22 674.57L665.78 672.97L666.33 668.85L666.89 662.74L667.44 653.82L667.56 650.59L668 639.56L668.11 635.15L668.40 626.41L668.56 621.34L668.67 619.41L668.93 625.86L669.11 631.59L669.22 634.95L669.67 647.75L669.78 650.42L670.22 659.48L670.78 667.68L671.33 671.50L671.89 674.21L672.44 674.24L673 675.22L673.56 674.95L674.11 676.08L674.67 675.55L675.22 675.50L675.78 674.98L676.33 675.25L676.89 675.61L677.44 676.06L678 676.89L678.56 676.61L679.11 675.86L679.67 676L680.22 675.56L680.78 676.91L681.33 676.18L681.89 677.06L682.44 676.67L683 676.93L683.56 675.47L684.11 675.69L684.67 675.77L685.22 675.43L685.78 676.79L686.33 676.01L686.89 676.67L687.44 676.11L688 675.39L688.56 675.63L689.11 675.27L689.67 675.17L690.22 675.20L690.78 675.90L691.33 675.19L691.89 675.75L692.44 675.75L693 676.18L693.56 675.55L694.11 676.51L694.67 675.89L695.22 676.59L695.78 676.32L696.33 675.55L696.89 675.63L697.44 675.65L698 676.39L698.56 676.17L699.11 676.12L699.67 676.69L700.22 675.71L700.78 675.75L701.33 675.53L701.89 675.26L702.44 675.12L703 675.18L703.56 676.30L704.11 676.54L704.67 677.01L705.22 677.27L705.78 676.38L706.33 676.73L706.89 677L707.44 676.08L708 676.89L708.56 676.84L709.11 677.28L709.67 677.13L710.22 675.97L710.78 676.38L711.33 675.40L711.89 675.84L712.44 675.70L713 675.29L713.56 675.80L714.11 675.68L714.67 675.96L715.22 674.91L715.78 637.57L716.33 340L716.89 340L717.33 340L717.44 340L717.89 340L718 340L718.18 340L718.44 340L718.56 340L718.71 340L719 340L719.11 340L719.56 340L719.67 340L720.22 340L720.78 392.81L721.33 666.33L721.89 667.83L722.44 668.24L723 669.80L723.56 670.59L724.11 671.09L724.67 671.24L725.22 671.53L725.78 671.77L726.33 672.72L726.89 673.89L727.44 673.94L728 673.70L728.56 674.40L729.11 673.91L729.67 674.78L730.22 675.06L730.78 675.86L731.33 675.28L731.89 675.78L732.44 676.31L733 676.24L733.56 676.03L734.11 675.88L734.67 675.41L735.22 675.49L735.78 675.32L736.33 676.04L736.89 676.11L737.44 675L738 675.12L738.56 673.10L739.11 672.45L739.33 672.45L739.67 671.90L739.89 671.56L740.18 671.84L740.22 670.49L740.44 670.35L740.71 670.55L740.78 671.30L741 671.19L741.33 671.53L741.56 672.59L741.89 673.01L742.44 673.76L743 674.69L743.56 675.37L744.11 675.51L744.67 675.76L745.22 675.59L745.78 675.46L746.33 674.77L746.89 672.66L747.44 670.59L748 668.63L748.56 664.48L748.84 663.30L749.11 661.86L749.38 663.48L749.67 665.61L750.22 668.81L750.78 670.44L751.33 672.92L751.89 673.88L752.44 674.89L753 675.17L753.56 675.34L754.11 676.02L754.67 675.58L755.22 674.86L755.78 674.08L756.33 673.11L756.89 671.02L757.44 668.49L758 663.22L758.44 657.93L758.56 656.49L759 649.68L759.11 648.86L759.29 645.25L759.56 642.18L759.67 643.75L759.82 645.99L760.11 650.47L760.22 653.07L760.67 659.49L760.78 659.79L761.33 665.72L761.89 669.55L762.44 672.19L763 672.21L763.56 672.15L764.11 669.26L764.67 666.11L765.22 659.31L765.56 654.36L765.78 650.93L766.11 644.01L766.33 638.76L766.40 636.74L766.67 630.53L766.89 632.46L766.93 632.81L767.22 635.29L767.44 636.12L767.78 634.78L768 633.27L768.56 623.25L769.11 602.10L769.67 569.46L770 543.29L770.22 524.45L770.56 491.86L770.78 469.10L770.84 461L771.11 439.15L771.33 456.94L771.38 462.01L771.67 491.94L771.89 515.33L772.22 546.59L772.44 563.37L773 600.69L773.56 624.27L774.11 639.27L774.67 646.57L775.22 647.22L775.78 641.51L776.33 628.50L776.62 621.44L776.89 615.12L777.16 622.81L777.44 631.36L778 646.27L778.56 657.21L779.11 665.26L779.67 670.04L780.22 672.20L780.78 674.05L781.33 675.42L781.89 676.21L782.44 676.91L783 676.09L783.56 676.54L784.11 675.89L784.67 675.94L785.22 674.34L785.78 673.90L786.33 672.73L786.44 673.88L786.89 671.90L787 672.08L787.29 670.54L787.44 670.63L787.56 669.88L787.82 671.38L788 671.13L788.11 672.19L788.56 672.60L788.67 672.83L789.11 673.85L789.67 674.32L790.22 674.60L790.78 674.76L791.33 674.97L791.89 676.27L792.44 675.53L793 675.38L793.56 675.59L794.11 676.02L794.67 677.06L795.22 675.95L795.78 676.85L796.33 676.06L796.89 675.72L797.44 675.40L798 673.61L798.56 670.93L799.11 667.46L799.67 660.30L800.22 648.39L800.67 633.40L800.78 630.09L801.22 609.21L801.33 603.83L801.51 593.57L801.78 582.01L801.89 585.66L802.04 592.47L802.33 607.12L802.44 612.68L802.89 632.22L803 636.52L803.56 653.07L804.11 663.78L804.67 668.92L805.22 672.43L805.78 673.51L806.33 674.60L806.89 676.18L807.44 675.25L808 676.30L808.56 676.63L809.11 676.65L809.67 676.52L810.22 675.78L810.78 676.03L811.33 675.67L811.89 674.79L812.44 674.27L812.89 671.90L813 672.90L813.44 670.77L813.56 671.25L813.73 669.82L814 670.37L814.11 669.04L814.27 670.25L814.56 670.21L814.67 670.95L815.11 672.03L815.22 672.75L815.78 674.11L816.33 674.24L816.89 675.12L817.44 675.16L818 675.33L818.56 676.28L819.11 675.54L819.67 675.45L820.22 675.62L820.78 676.42L821.33 675.82L821.89 676.75L822.44 676.26L823 676.43L823.56 675.47L824.11 675.29L824.67 675.26L825.22 675.51L825.78 675.77L826.33 675.23L826.89 675.96L827.44 675.85L828 676.07L828.56 676.29L829.11 677.08L829.67 675.96L830.22 677.05L830.78 675.91L831.33 676.84L831.89 675.71L832.44 677.26L833 676.23L833.56 677.13L834.11 675.92L834.67 676.11L835.22 676.31L835.78 675.68L836.33 676.02L836.89 676.48L837.44 676.89L838 675.98L838.56 675.89L839.11 669.58L839.33 527.75L839.67 340L839.89 340L840.18 340L840.22 340L840.44 340L840.71 340L840.78 340L841 340L841.33 340L841.56 527.15L841.89 669.74L842.44 670.04L843 671.91L843.56 672.41L844.11 672.72L844.67 673.33L845.22 673.12L845.78 673.32L846.33 673.11L846.89 673.56L847.44 673.03L847.78 672.76L848 671.71L848.33 672.15L848.56 671.58L848.62 672.02L848.89 671.54L849.11 672.42L849.16 671.48L849.44 672.58L849.67 673.58L850 674.01L850.22 673.91L850.78 675.06L851.33 676.01L851.89 675.43L852.44 676.47L853 675.35L853.56 676.70L854.11 676.02L854.67 675.88L855.22 676.82L855.78 676.68L856.33 677.34L856.89 677.08L857.44 677.17L858 676.44L858.56 677.19L859.11 675.78L859.67 676.90L860.22 676.60L860.78 676.05L861.33 676.77L861.89 676.30L862.44 676.41L863 676.71L863.56 675.78L864.11 675.74L864.67 676.18L865.22 675.54L865.78 676.34L866.33 676.54L866.89 676.36L867.44 676.09L868 676.92L868.56 677.03L869.11 677.14L869.67 676.81L870.22 677.09L870.78 676.78L871.33 675.65L871.89 675.66L872.44 675.10L873 675.26L873.56 675.89L874.11 676.68L874.67 676.68L875.22 675.62L875.78 675.71L876.33 675.95L876.89 676.92L877.44 676.53L878 677.17L878.56 675.70L879.11 677.08L879.67 675.90L880.22 676.76L880.78 676.85L881.33 676.79L881.89 675.93L882.44 676.32L883 675.83L883.56 675.24L884.11 675.71L884.67 675.62L885.22 676.30L885.78 675.90L886.33 676.33L886.89 676.28L887.44 675.65L888 675.50L888.56 676.11L889.11 675.71L889.67 675.44L890.22 675.30L890.78 676.38L891.33 675.74L891.89 675.44L892.44 674.79L893 675.61L893.56 674.59L894.11 673.97L894.67 672.29L894.89 671.60L895.22 671.05L895.44 670.22L895.73 670.53L895.78 670.13L896 670.45L896.27 670.07L896.33 670.42L896.56 670.62L896.89 671.78L897.11 671.02L897.44 671.77L898 670.72L898.56 670.60L899.11 668.22L899.67 666.26L900.22 660.80L900.44 659.38L900.78 655.15L901 651.94L901.29 648.74L901.33 647.32L901.56 645.50L901.82 648.01L901.89 648.70L902.11 651.05L902.44 655.98L902.67 658.66L903 662.55L903.56 668.06L904.11 670.44L904.67 673.12L905.22 674.27L905.78 674.43L906.33 675.28L906.89 675.03L907.44 676.42L908 675.52L908.56 676.07L909.11 675.93L909.67 676.73L910.22 676.73L910.78 676.09L911.33 675.78L911.89 674.40L912.44 674.84L913 672.57L913.56 671.78L913.78 671.01L914.11 670.43L914.33 669.67L914.62 668.24L914.67 668.65L914.89 668.02L915.16 667.54L915.22 668.53L915.44 668.99L915.78 670.22L916 671.16L916.33 672.02L916.89 674.10L917.44 675.12L918 676.53L918.56 676.84L919.11 677.19L919.67 676.33L920.22 676.97L920.78 676.76L921.33 676.75L921.89 677.08L922.44 675.60L923 676.19L923.56 675.82L924.11 676.53L924.67 675.78L925.22 676.93L925.78 675.58L926.33 675.88L926.89 675.45L927.44 675.78L928 676.23L928.56 675.42L929.11 675.63L929.67 676.35L930.22 676.38L930.78 676.79L931.33 676.08L931.89 676.97L932.44 676.63L933 676.77L933.56 675.50L934.11 676.07L934.67 675.45L935.22 677L935.78 676.97L936.33 677.01L936.89 675.59L937.44 675.93L938 675.93L938.56 676.20L939.11 675.55L939.67 676.55L940.22 675.67L940.78 676.15L941.33 675.33L941.89 675.92L942.44 675.27L943 675.27L943.56 675.98L944.11 675.69L944.67 676.53L945.22 675.57L945.78 675.80L946.33 675.14L946.89 675.50L947.44 675.86L948 676.31L948.56 676.12L949.11 676.85L949.67 675.58L950.22 676.89L950.78 675.73L951.33 677.06L951.89 676.30L952.44 676.38L953 676.69L953.56 677.02L954.11 677.03L954.67 676.04L955.22 675.42L955.78 675.55L956.33 676.66L956.89 676.58L957.44 676.69L958 675.57L958.56 675.90L959.11 675L959.67 675.42L960.22 675.74L960.78 677.03L961.33 676.53L961.89 676.87L962.44 675.35L963 675.77L963.56 675L964.11 675.59L964.67 675.33L965.22 676.69L965.78 675.94L966.33 676.46L966.89 676.72L967.44 677.16L968 677.25L968.56 676.77L969.11 676.49L969.67 676.86L970.22 676.16L970.78 675.93L971.33 676.40L971.89 675.69L972.44 675.92L973 675.87L973.56 676.01L974.11 675.86L974.67 675.83L975.22 675.99L975.78 675.28L976.33 676.49L976.89 675.37L977.44 676.19L978 676L978.56 675.79L979.11 675.47L979.67 675.20L980.22 675.64L980.78 675.56L981.33 676.04L981.89 675.70L982.44 676.37L983 675.95L983.56 675.50L984.11 675.83L984.67 676.71L985.22 675.61L985.78 676.47L986.33 676.89L986.89 676.13L987.44 676.37L988 675.90L988.56 675.88L989.11 676.24L989.67 676.26L990.22 675.92L990.78 676.25L991.33 676.08L991.89 676.36L992.44 675.22L993 675.19L993.56 675.44L994.11 675.60L994.67 676.58L995.22 668.77L995.78 385.47L996.33 340L996.89 340L997.44 340L997.73 340L998 340L998.27 340L998.56 340L999.11 340L999.67 340L1000.22 385.29L1000.78 669.08L1001.33 668.80L1001.89 670.57L1002.44 670.14L1003 671.90L1003.56 672.26L1004.11 673.26L1004.67 673.31L1005.22 672.78L1005.78 674.29L1006.33 674.01L1006.89 674.17L1007.44 673.23L1008 674.37L1008.56 674.04L1009.11 674.71L1009.67 674.82L1010.22 674.68L1010.78 673.09L1011.33 673.76L1011.89 672.68L1012.44 672.84L1013 671.66L1013.11 671.54L1013.56 670.95L1013.67 670.50L1013.96 670.42L1014.11 670.81L1014.22 670.02L1014.49 670.43L1014.67 671.61L1014.78 671.50L1015.22 671.81L1015.33 671.09L1015.78 671.68L1016.33 672.54L1016.89 674.30L1017.44 674.19L1018 675.16L1018.56 674.27L1019.11 674.95L1019.67 675.08L1020.22 675.96L1020.78 675.06L1021.33 676.13L1021.89 675.49L1022.44 675L1023 675.59L1023.56 675.71L1024.11 676.35L1024.67 676.84L1025.22 676.19L1025.78 676.49L1026.33 675.70L1026.89 676.29L1027.44 674.98L1028 675.84L1028.56 674.54L1029.11 674.93L1029.67 673.71L1030.22 673.41L1030.78 672.35L1031.33 671.71L1031.89 670.74L1032.44 669.03L1033 666.77L1033.56 664.17L1034.11 661.19L1034.40 658.52L1034.67 657.23L1034.93 656.42L1035.22 656.74L1035.78 653.65L1036.33 650.31L1036.89 643.43L1037.11 640.46L1037.44 635.69L1037.67 631.53L1037.96 626.17L1038 625.01L1038.22 623.22L1038.49 627.24L1038.56 629.32L1038.78 633.49L1039.11 640.86L1039.33 645.09L1039.67 651.48L1040.22 659.11L1040.78 664.02L1041.33 667.98L1041.89 669.92L1042.44 672.15L1043 671.74L1043.56 671.18L1044.11 669.46L1044.67 663.24L1045.22 655.16L1045.33 652.34L1045.78 640.34L1045.89 636.55L1046.18 626.49L1046.33 622.55L1046.44 619.23L1046.71 625.92L1046.89 629.44L1047 633.08L1047.44 640.34L1047.56 641.59L1048 641.70L1048.56 629.58L1049.11 598.96L1049.67 548.69L1049.96 514.94L1050.22 488.25L1050.49 516.23L1050.78 550.47L1051.33 603.60L1051.89 638.23L1052.44 657.17L1053 666.78L1053.56 672.44L1054.11 674.49L1054.67 674.81L1055.22 675.17L1055.78 674.87L1056.33 675.74L1056.89 675.36L1057.44 675.47L1058 675.40L1058.56 675.22L1059.11 675.75L1059.67 675.44L1060.22 675.60L1060.78 675.72L1061.33 676.03L1061.89 676.78L1062.44 675.92L1063 677.01L1063.56 676.88L1064.11 676.72L1064.67 676.50L1065.22 676.72L1065.78 676.52L1066.33 676.09L1066.89 653.14L1067.44 340L1068 340L1068.56 340L1068.89 340L1069.11 340L1069.44 340L1069.67 340L1069.73 340L1070 340L1070.22 340L1070.27 340L1070.56 340L1070.78 340L1071.11 340L1071.33 340L1071.89 340L1072.44 340L1073 631.89L1073.56 664.77L1074.11 665.94L1074.67 668.73L1075.22 668.73L1075.78 670.90L1076.33 670.97L1076.89 673.33L1077.44 672.77L1078 674.34L1078.56 673.23L1079.11 674.38L1079.67 673.61L1080.22 673.96L1080.78 674.54L1081.33 674.58L1081.89 672.38L1082.44 668.68L1083 661.58L1083.56 651.24L1084.11 637.52L1084.67 623.87L1085.11 612.65L1085.22 610.96L1085.67 603.11L1085.78 602.24L1085.96 600.27L1086.22 600.24L1086.33 599.81L1086.49 600.73L1086.78 602.85L1086.89 605.20L1087.33 613.68L1087.44 616.83L1088 630.07L1088.56 643.35L1089.11 655.33L1089.67 664.19L1090.22 670.63L1090.78 674.41L1091.33 676.29L1091.89 676.99L1092.44 677.11L1093 676.47L1093.56 675.88L1094.11 673.39L1094.67 672.41L1095.22 670.04L1095.78 667.14L1096.33 663.19L1096.89 658.59L1097.44 654.73L1097.78 651.36L1098 650.56L1098.33 649.50L1098.56 647.78L1098.62 647.94L1098.89 648.51L1099.11 648.80L1099.16 647.73L1099.44 648.40L1099.67 650.33L1100 652.10L1100.22 653.55L1100.78 657.81L1101.33 662.26L1101.89 666.30L1102.44 668.59L1103 671.34L1103.56 674.21L1104.11 675.75L1104.67 676.28L1105.22 675.83L1105.78 675.55L1106.33 675.63L1106.89 675.11L1107.44 676.35L1108 675.64L1108.56 676.22L1109.11 676.03L1109.67 675.66L1110.22 675.74L1110.78 674.97L1111.33 673.66L1111.89 673.11L1112.44 670.31L1113 668.58L1113.33 667.70L1113.56 667.53L1113.89 667.34L1114.11 666.51L1114.18 666.22L1114.44 666.62L1114.67 666.05L1114.71 666.69L1115 666.41L1115.22 667.69L1115.56 667.25L1115.78 667.87L1116.33 669.20L1116.89 670.28L1117.44 671.08L1118 669.97L1118.56 667.70L1119.11 663.82L1119.67 658.57L1120.22 654.57L1120.78 649.14L1121.11 647.07L1121.33 645.90L1121.67 645.31L1121.89 644L1121.96 644.05L1122.22 644.43L1122.44 644.63L1122.49 643.95L1122.78 644.30L1123 645.97L1123.33 648L1123.56 648.95L1124.11 653.95L1124.67 658.16L1125.22 662.85L1125.78 667.23L1126.33 670.77L1126.89 672.56L1127.44 674.57L1128 674.18L1128.56 675.31L1129.11 675.46L1129.67 675.17L1130.22 676.41L1130.78 675.45L1131.33 675.86L1131.89 676.85L1132.44 677L1133 677.13L1133.56 675.86L1134.11 676.48L1134.67 675.03L1135.22 675.47L1135.78 675.02L1136.33 673.41L1136.89 672.53L1137.44 672.22L1138 671.56L1138.56 670.02L1139.11 668.70L1139.67 666.07L1140.22 664.20L1140.78 662.34L1141.33 661.17L1141.78 661.32L1141.89 659.94L1142.33 659.55L1142.44 659.48L1142.62 658.99L1142.89 659.30L1143 659.19L1143.16 659.31L1143.44 660.18L1143.56 660.51L1144 661.24L1144.11 661.86L1144.67 662.42L1145.22 664.29L1145.78 664.27L1146.33 666.02L1146.89 667.32L1147.44 669.47L1148 671.60L1148.56 673.04L1149.11 673.39L1149.67 673.58L1150.22 674.21L1150.78 675.12L1151.33 675.33L1151.89 676.35L1152.44 676.79L1153 676.32L1153.56 676.48L1154.11 676.61L1154.67 676.23L1155.22 675.97L1155.78 676.81L1156.33 676.97L1156.89 675.62L1157.44 676.41L1158 675.56L1158.56 675.05L1159.11 675.11L1159.67 674.81L1160.22 675.13L1160.78 673.45L1161.33 671.97L1161.89 670.36L1162.44 669.48L1163 667.72L1163.29 667.51L1163.56 666.81L1163.82 666.44L1164.11 666.38L1164.67 668.18L1165.22 669.76L1165.78 671.86L1166.33 673.54L1166.89 673.77L1167.44 673.69L1168 673.10L1168.56 671.89L1168.89 671.44L1169.11 671.84L1169.44 671.09L1169.67 670.72L1169.73 670.67L1170 670.61L1170.22 670.40L1170.27 671.43L1170.56 670.75L1170.78 672.24L1171.11 672.32L1171.33 672.84L1171.89 672.80L1172.44 674.11L1173 675.38L1173.56 675.11L1174.11 675.20L1174.67 676.09L1175.22 675.41L1175.78 676.26L1176.33 675.48L1176.89 676.62L1177.44 675.67L1178 675.46L1178.56 676.20L1179.11 675.77L1179.67 676.38L1180.22 676.23L1180.78 676.88L1181.33 676.06L1181.89 675.85L1182.44 675.03L1183 675.75L1183.56 675.40L1184.11 675.81L1184.67 675.39L1185.22 674.64L1185.78 673.23L1186.33 672.86L1186.89 671.99L1187.11 671.93L1187.44 671.93L1187.67 670.51L1187.96 670.61L1188 669.79L1188.22 671.01L1188.49 670.35L1188.56 671.34L1188.78 671.49L1189.11 671.14L1189.33 672.29L1189.67 672.14L1190.22 673.19L1190.78 673.94L1191.33 674.74L1191.89 673.56L1192.44 672.38L1193 669.81L1193.56 667.78L1194.11 664.11L1194.44 662.14L1194.67 660.93L1195 659.92L1195.22 660.58L1195.29 660.69L1195.56 660.94L1195.78 660.96L1195.82 660.63L1196.11 661.34L1196.33 661.89L1196.67 663.27L1196.89 664.38L1197.44 666.33L1198 669.96L1198.56 671.43L1199.11 672.46L1199.67 673.24L1200.22 670.11L1200.78 666.95L1201.33 659.44L1201.89 649.48L1202.44 634.04L1203 586.15L1203.56 340L1204.11 340L1204.22 340L1204.67 340L1204.78 340L1205.07 340L1205.22 340L1205.33 340L1205.60 340L1205.78 340L1205.89 340L1206.33 340L1206.44 340L1206.89 340L1207.44 458.35L1208 621.24L1208.56 639.92L1209.11 653L1209.67 662.35L1210.22 668.27L1210.78 671.04L1211.33 673.05L1211.89 672.83L1212.44 672.20L1213 670.97L1213.33 670.26L1213.56 669.57L1213.89 669.37L1214.11 670.29L1214.18 669.69L1214.44 670.50L1214.67 670.67L1214.71 670.61L1215 670.49L1215.22 670.29L1215.56 670.78L1215.78 671.14L1216.33 673.13L1216.89 674.05L1217.44 675.10L1218 674.12L1218.56 674.06L1219.11 672.46L1219.67 669.21L1220.22 667L1220.78 662.67L1221.33 659.30L1221.78 656.01L1221.89 654.72L1222.33 652.60L1222.44 652.38L1222.62 652.15L1222.89 651.36L1223 652.62L1223.16 652.39L1223.44 653.05L1223.56 653.60L1224 654.97L1224.11 655.45L1224.67 659.53L1225.22 662.89L1225.78 666.58L1226.33 669.05L1226.89 671.27L1227.44 673.37L1228 674.68L1228.56 675.91L1229.11 675.69L1229.67 675.35L1230.22 675.21L1230.78 675.07L1231.33 675.32L1231.89 676.05L1232.44 674.95L1233 675.51L1233.56 675.73L1234.11 676.02L1234.67 675.88L1235.22 676.08L1235.78 676.33L1236.33 676.26L1236.89 675.40L1237.44 675.68L1238 676.10L1238.56 675.57L1239.11 674.87L1239.67 675.42L1240.22 674.36L1240.78 674.51L1241.33 675.09L1241.89 674.90L1242.44 675.62L1243 675.70L1243.56 675.21L1244.11 675.87L1244.67 675.58L1245.22 675.70L1245.78 675.07L1246.33 674.96L1246.89 674.55L1247.44 675.25L1248 675.82L1248.56 675.70L1249.11 674.37L1249.67 674.29L1250.22 674.41L1250.78 675.06L1251.33 674.79L1251.89 674.43L1252.44 674.88L1253 675.08L1253.56 675.51L1254.11 675.08L1254.67 675.46L1255.22 675.24L1255.78 675.22L1256.33 674.12L1256.89 674.83L1257.44 673.85L1258 673.66L1258.56 674L1259.11 673.35L1259.67 673.52L1260.22 673.81L1260.78 674.20L1261.33 673.87L1261.89 675.11L1262.44 674.89L1263 674.24L1263.56 674.04L1264.11 672.67L1264.67 672.35L1265.22 668.96L1265.78 666.82L1266.33 663.68L1266.44 664.21L1266.89 661.85L1267 661.58L1267.29 660.66L1267.44 661.29L1267.56 660.38L1267.82 661.27L1268 661.18L1268.11 661.05L1268.56 661.97L1268.67 662.28L1269.11 663.70L1269.67 664.54L1270.22 664.77L1270.78 663.21L1271.11 662.01L1271.33 661.94L1271.67 660.72L1271.89 660.40L1271.96 660.78L1272.22 660.18L1272.44 660.40L1272.49 661.21L1272.78 661.93L1273 662.47L1273.33 663.22L1273.56 664.43L1274.11 667.23L1274.67 669.13L1275.22 671.43L1275.78 672.67L1276.33 672.60L1276.89 672.47L1277.44 671.36L1278 670.92L1278.56 669.16L1279.11 668.99L1279.56 667.64L1279.67 668.27L1280.11 666.41L1280.22 666.80L1280.40 665.55L1280.67 666.02L1280.78 666.51L1280.93 665.86L1281.22 666.57L1281.33 666.18L1281.78 667.03L1281.89 668.21L1282.44 668L1283 670.18L1283.56 669.71L1284.11 671.35L1284.67 671.90L1285.22 672.30L1285.78 671.73L1286.33 671.98L1286.89 672.03L1287.44 672L1288 671.60L1288.56 670.97L1289.11 669.90L1289.67 669.87L1290.22 669.09L1290.78 668.30L1291.11 668.61L1291.33 667.03L1291.67 667.80L1291.89 666.98L1291.96 667.61L1292.22 667.80L1292.44 666.86L1292.49 667.23L1292.78 666.97L1293 667.16L1293.33 667.03L1293.56 667.97L1294.11 668.88L1294.67 669.37L1295.22 669.27L1295.78 670.19L1296.33 669.87L1296.89 669.68L1297.44 670.34L1298 670.34L1298.56 670.56L1299.11 671.33L1299.67 670.60L1300.22 671.19L1300.78 669.89L1301.33 670.32L1301.89 669.11L1302.44 669.46L1303 669.91L1303.56 669.81L1304.11 669.73L1304.67 668.61L1305.22 668.04L1305.56 667.69L1305.78 667.84L1306.11 667.06L1306.33 667.44L1306.40 667.76L1306.67 667.26L1306.89 667.69L1306.93 668.38L1307.22 668.50L1307.44 667.45L1307.78 667.15L1308 667.08L1308.56 667.42L1309.11 668.72L1309.67 668.92L1310.22 668.51L1310.78 668.58L1311.33 668.86L1311.89 667.94L1312.44 668.83L1313 668.62L1313.56 667.56L1314.11 667.78L1314.44 667.58L1314.67 666.93L1315 667.51L1315.22 666.31L1315.29 666.71L1315.56 666.40L1315.78 666.70L1315.82 667.31L1316.11 667.21L1316.33 667.23L1316.67 667.67L1316.89 666.62L1317.44 666.66L1318 667.45L1318.56 666.95L1319.11 668.34L1319.67 667.37L1320.22 667.75L1320.78 667.68L1321.33 668.34L1321.89 668.32L1322.44 667.87L1323 667L1323.56 666.95L1324.11 667.49L1324.67 666.96L1325.22 667.89L1325.78 667.73L1326.33 666.74L1326.89 666.82L1327.44 666.16L1328 666.60L1328.56 664.32L1329.11 662.85L1329.67 656.49L1330.22 648.35L1330.78 632.98L1331.33 613.42L1331.89 590.48L1332.22 577.95L1332.44 554.70L1332.78 340L1333 340L1333.07 340L1333.33 340L1333.56 340L1333.60 340L1333.89 340L1334.11 418.35L1334.44 572.73L1334.67 581.76L1335.22 604.71L1335.78 625.19L1336.33 641.70L1336.89 652.26L1337.44 659.13L1338 662.15L1338.56 663.82L1339.11 664.32L1339.67 664.66L1340.22 664.82L1340.78 664.73L1341.33 665.28L1341.89 665.74L1342.44 665.63L1343 665.52L1343.56 666.64L1344.11 666.13L1344.67 666.50L1345.22 666.19L1345.78 667.13L1346.33 666.99L1346.89 666.93L1347.44 666.82L1348 666.72L1348.56 666.32L1349.11 666.10L1349.67 665.95L1350.22 666.10L1350.78 666.05L1351.33 666.25L1351.89 666.36L1352.44 666.61L1353 666.54L1353.56 665.42L1354.11 664.80L1354.67 665.14L1355.22 664.83L1355.78 666.02L1356.33 665.59L1356.89 665.04L1357.44 663.92L1358 662.55L1358.56 657.99L1359.11 651.08L1359.33 647.90L1359.67 643.53L1359.89 640.69L1360.18 638.59L1360.22 638.72L1360.44 638.90L1360.71 639.85L1360.78 639.91L1361 641.23L1361.33 643.72L1361.56 646.72L1361.89 652.09L1362.44 657.61L1363 660.92L1363.56 660.13L1364.11 656.97L1364.67 647.37L1365.22 633.40L1365.78 610.50L1366.33 586.10L1366.89 558.93L1367.44 540.27L1367.73 534.88L1368 533.76L1368.27 534.90L1368.56 540.98L1369.11 560.57L1369.67 585.38L1370.22 611.44L1370.78 632.05L1371.33 646.94L1371.89 655.45L1372.44 660.74L1373 663.50L1373.56 663.68L1374.11 663.16L1374.67 663.41L1375.22 663.60L1375.78 663.50L1376.33 663.74L1376.89 663.73L1377.44 662.93L1378 663.09L1378.56 663.52L1379.11 663.09L1379.67 662.88L1380.22 663.98L1380.78 663.41L1381.33 664.27L1381.89 663.46L1382.44 662.35L1383 662.15L1383.56 659.72L1384.11 657.58L1384.67 652.97L1384.89 651.17L1385.22 647.68L1385.44 646.13L1385.73 645.93L1385.78 644.83L1386 644.70L1386.27 644.64L1386.33 645.32L1386.56 646.72L1386.89 649.53L1387.11 650.43L1387.44 652.83L1388 657.56L1388.56 659.53L1389.11 662.03L1389.67 662.40L1390.22 663.23L1390.78 661.79L1391.33 662.46L1391.89 661.56L1392.44 661.92L1393 660.26L1393.33 660.56L1393.56 659.55L1393.89 659.65L1394.11 660.02L1394.18 659.14L1394.44 659.13L1394.67 659.70L1394.71 659.32L1395 658.41L1395.22 658.42L1395.56 658.71L1395.78 659.13L1396.33 660.49L1396.89 660.48L1397.44 660.71L1398 659.17L1398.56 657.23L1399.11 653.35L1399.67 648.95L1400 645.53L1400.22 642.98L1400.56 641.21L1400.78 639.82L1400.84 639.80L1401.11 638.83L1401.33 639.05L1401.38 640.53L1401.67 640.89L1401.89 642.48L1402.22 644.88L1402.44 647.46L1403 652.72L1403.56 655.21L1404.11 657.56L1404.67 657.80L1405.22 657.44L1405.78 655.45L1406.22 653.53L1406.33 652.84L1406.78 652.50L1406.89 651.23L1407.07 652.14L1407.33 650.63L1407.44 651.15L1407.60 651.59L1407.89 652.86L1408 652.98L1408.44 654.54L1408.56 654.64L1409.11 656.44L1409.67 656.59L1410.22 658.31L1410.78 657.26L1411.33 657.07L1411.89 656.45L1412.22 656.20L1412.44 657.24L1412.78 656.23L1413 655.95L1413.07 655.76L1413.33 657.07L1413.56 656.65L1413.60 657.15L1413.89 655.65L1414.11 655.64L1414.44 655.62L1414.67 655.47L1415.22 654.90L1415.78 653.20L1416.33 650.46L1416.89 644.86L1417.44 638.85L1417.78 635.63L1418 633.39L1418.33 630.60L1418.56 630.04L1418.62 629.74L1418.89 629.08L1419.11 629.49L1419.16 628.84L1419.44 631L1419.67 631.76L1420 635.31L1420.22 637.12L1420.78 644.55L1421.33 649.45L1421.89 653.28L1422.44 655.51L1423 657.17L1423.56 656.53L1424.11 656.92L1424.67 657.18L1425.22 656.66L1425.78 656.63L1426.33 656.28L1426.67 654.67L1426.89 654.83L1427.22 654.52L1427.44 655.29L1427.51 655.54L1427.78 655.26L1428 655.42L1428.04 654.33L1428.33 654.67L1428.56 655.11L1428.89 655.38L1429.11 654.62L1429.67 656.18L1430.22 655.88L1430.78 656.35L1431.33 655.58L1431.89 655.91L1432.44 656.21L1433 656.15L1433.56 655.64L1434.11 655.90L1434.67 655.81L1435.22 655.53L1435.78 654.82L1436.33 654.89L1436.89 653.39L1437.44 653.41L1438 653.40L1438.56 652.47L1439.11 653.14L1439.67 651.22L1440.22 650.66L1440.78 647.15L1441.33 641.95L1441.89 633.56L1442.44 620.24L1443 604.17L1443.56 586.18L1444 572.58L1444.11 568.51L1444.56 558.63L1444.67 557.37L1444.84 554.59L1445.11 554.40L1445.22 553.41L1445.38 554.68L1445.67 557.38L1445.78 558.69L1446.22 568.89L1446.33 571.99L1446.89 590.15L1447.44 607.70L1448 623.45L1448.56 633.71L1449.11 639.70L1449.67 644.50L1450.22 645.83L1450.78 646.89L1451.33 647.45L1451.89 647.81L1452.44 647.94L1453 647.10L1453.56 646.79L1454.11 646.86L1454.67 646.76L1455.22 647.54L1455.78 647.12L1456.33 647.84L1456.89 647.33L1457.44 648.39L1458 648.85L1458.56 647.90L1459.11 648.45L1459.67 647.76L1460.22 647.76L1460.78 648.56L1461.33 648.55L1461.89 649.79L1462.44 649.93L1463 650.23L1463.56 650.62L1464.11 649.25L1464.67 649.42L1465.22 649.45L1465.78 650.49L1466.33 651.38L1466.89 651.48L1467.44 650.99L1468 650.90L1468.56 649.76L1469.11 648.59L1469.67 648.27L1470.22 645.98L1470.78 644.75L1471.33 642.64L1471.89 641.70L1472.18 641.06L1472.44 641.72L1472.71 641.26L1473 642.15L1473.56 642.81L1474.11 642.82L1474.67 642.73L1475.22 643.31L1475.56 643.15L1475.78 643.32L1476.11 642.56L1476.33 642.42L1476.40 642.83L1476.67 642.37L1476.89 642.90L1476.93 641.80L1477.22 642.62L1477.44 642.27L1477.78 642.51L1478 642.04L1478.56 643.77L1479.11 644.37L1479.67 645.70L1480.22 645.79L1480.78 645.92L1481.33 645.30L1481.89 645.46L1482.44 646.30L1483 646.58L1483.56 646.93L1484.11 646.30L1484.67 645.02L1485.22 644.50L1485.78 643.44L1486.33 642.86L1486.89 640.82L1487.44 640.14L1487.78 638.61L1488 638.04L1488.33 637.69L1488.56 637.13L1488.62 638.05L1488.89 636.38L1489.11 637.07L1489.16 636.30L1489.44 637.46L1489.67 636.96L1490 637.72L1490.22 638.63L1490.78 640.33L1491.33 642L1491.89 642.72L1492.44 643.53L1493 644.04L1493.56 644.93L1494.11 644.10L1494.67 643.55L1495.22 644.14L1495.56 643.22L1495.78 642.84L1496.11 642.59L1496.33 643.47L1496.40 643.44L1496.67 642.41L1496.89 643.19L1496.93 642.46L1497.22 642.92L1497.44 643.40L1497.78 642.88L1498 644.30L1498.56 643.98L1499.11 644.14L1499.67 645.03L1500.22 644.20L1500.78 644.09L1501.33 644.77L1501.89 644.34L1502.44 644.56L1503 643.69L1503.33 642.61L1503.56 642.07L1503.89 642.56L1504.11 642.55L1504.18 642.34L1504.44 643.26L1504.67 642.07L1504.71 642.96L1505 642.20L1505.22 643.73L1505.56 643.87L1505.78 643.78L1506.33 643.81L1506.89 644.87L1507.44 645.38L1508 645.65L1508.56 644.56L1509.11 645.30L1509.67 644.92L1510.22 645.88L1510.78 646.43L1511.33 646.46L1511.89 645.47L1512.44 645.65L1513 645.26L1513.56 645.23L1514.11 646.02L1514.67 646.08L1515.22 645.65L1515.78 645.77L1516.33 646.09L1516.89 646.06L1517.44 645.55L1518 644.92L1518.56 644.66" fill="none" stroke="#2222ff" stroke-width="1.35" stroke-linejoin="round"/></g>
<rect x="459.0" y="479.7" width="17.1" height="202.3" fill="none" stroke="#000" stroke-width="2.2"/>
<path d="M354.7 608V618.4Q354.7 621.8 351.6 622" fill="none" stroke="#000" stroke-width="1.4"/>
<g class="pb">
<text class="b" x="28.0" y="479.7" font-size="10.8" textLength="12.4" lengthAdjust="spacingAndGlyphs" text-anchor="start">C4</text>
<text class="b" x="51.8" y="471.0" font-size="10.8" textLength="12.4" lengthAdjust="spacingAndGlyphs" text-anchor="start">C6</text>
<text class="b" x="93.4" y="476.8" font-size="10.8" textLength="12.7" lengthAdjust="spacingAndGlyphs" text-anchor="start">C8</text>
<text class="b" x="148.1" y="372.6" font-size="10.9" textLength="17.7" lengthAdjust="spacingAndGlyphs" text-anchor="start">C10</text>
<text class="b" x="171.0" y="372.6" font-size="10.9" textLength="17.8" lengthAdjust="spacingAndGlyphs" text-anchor="start">C11</text>
<text class="b" x="192.8" y="372.6" font-size="10.9" textLength="18.2" lengthAdjust="spacingAndGlyphs" text-anchor="start">C12</text>
<text class="b" x="219.3" y="383.4" font-size="10.9" textLength="18.2" lengthAdjust="spacingAndGlyphs" text-anchor="start">C13</text>
<text class="b" x="248.9" y="372.6" font-size="10.9" textLength="18.0" lengthAdjust="spacingAndGlyphs" text-anchor="start">C14</text>
<text class="b" x="327.8" y="372.6" font-size="10.9" textLength="18.0" lengthAdjust="spacingAndGlyphs" text-anchor="start">C16</text>
<text class="b" x="330.7" y="436.3" font-size="10.8" textLength="39.0" lengthAdjust="spacingAndGlyphs" text-anchor="start">C16:1 c9</text>
<text class="b" x="381.3" y="372.8" font-size="10.9" textLength="18.0" lengthAdjust="spacingAndGlyphs" text-anchor="start">C17</text>
<text class="b" x="452.3" y="372.8" font-size="10.9" textLength="17.9" lengthAdjust="spacingAndGlyphs" text-anchor="start">C18</text>
<text class="b" x="485.8" y="372.8" font-size="10.9" textLength="39.0" lengthAdjust="spacingAndGlyphs" text-anchor="start">C18:1 c9</text>
<text class="b" x="544.9" y="371.5" font-size="10.0" textLength="51.5" lengthAdjust="spacingAndGlyphs" text-anchor="start">C18:2 c9,c12</text>
<text class="b" x="603.4" y="372.8" font-size="10.9" textLength="75.1" lengthAdjust="spacingAndGlyphs" text-anchor="start">C18:3 c9,c12,c15</text>
<text class="b" x="382.8" y="642.2" font-size="10.8" textLength="43.9" lengthAdjust="spacingAndGlyphs" text-anchor="start">C17:1 c10</text>
<text class="b" x="457.4" y="477.2" font-size="10.8" textLength="19.7" lengthAdjust="spacingAndGlyphs" text-anchor="start">TFA</text>
<text class="b" transform="translate(269.1 491.0) rotate(-90)" font-size="11.2" textLength="38.0" lengthAdjust="spacingAndGlyphs">C14:1 c9</text>
<text class="b" transform="translate(284.5 468.7) rotate(-90)" font-size="11.2" textLength="16.6" lengthAdjust="spacingAndGlyphs">C15</text>
<text class="b" transform="translate(262.9 622.3) rotate(-90)" font-size="11.2" textLength="20.2" lengthAdjust="spacingAndGlyphs">C15i</text>
<text class="b" transform="translate(275.0 571.0) rotate(-90)" font-size="11.2" textLength="25.4" lengthAdjust="spacingAndGlyphs">C15ai</text>
<text class="b" transform="translate(305.4 610.4) rotate(-90)" font-size="11.2" textLength="19.4" lengthAdjust="spacingAndGlyphs">C16i</text>
<text class="b" transform="translate(357.7 605.3) rotate(-90)" font-size="11.2" textLength="19.8" lengthAdjust="spacingAndGlyphs">C17i</text>
<text class="b" transform="translate(364.6 575.5) rotate(-90)" font-size="11.2" textLength="24.4" lengthAdjust="spacingAndGlyphs">C17ai</text>
<text class="b" transform="translate(494.7 593.6) rotate(-90)" font-size="11.2" textLength="43.0" lengthAdjust="spacingAndGlyphs">C18:1 c11</text>
<text class="b" transform="translate(621.8 530.0) rotate(-90)" font-size="12.0" textLength="53.3" lengthAdjust="spacingAndGlyphs">C18:2 c9,t11</text>
<text class="b" transform="translate(654.4 547.4) rotate(-90)" font-size="12.0" textLength="71.2" lengthAdjust="spacingAndGlyphs">C18:3 c9,t11,c15</text>
<text class="b" transform="translate(626.6 639.7) rotate(-90)" font-size="11.0" textLength="53.0" lengthAdjust="spacingAndGlyphs">C18:2 t10,c12</text>
<text class="b" transform="translate(636.0 633.9) rotate(-90)" font-size="10.0" textLength="31.0" lengthAdjust="spacingAndGlyphs">CLA c,c</text>
<text class="b" transform="translate(643.2 622.4) rotate(-90)" font-size="10.4" textLength="29.4" lengthAdjust="spacingAndGlyphs">CLA t,t</text>
<text class="b" transform="translate(674.5 634.1) rotate(-90)" font-size="12.0" textLength="70.1" lengthAdjust="spacingAndGlyphs">C18:3 t9,t11,c15</text>
</g>
</svg>
</body></html>
